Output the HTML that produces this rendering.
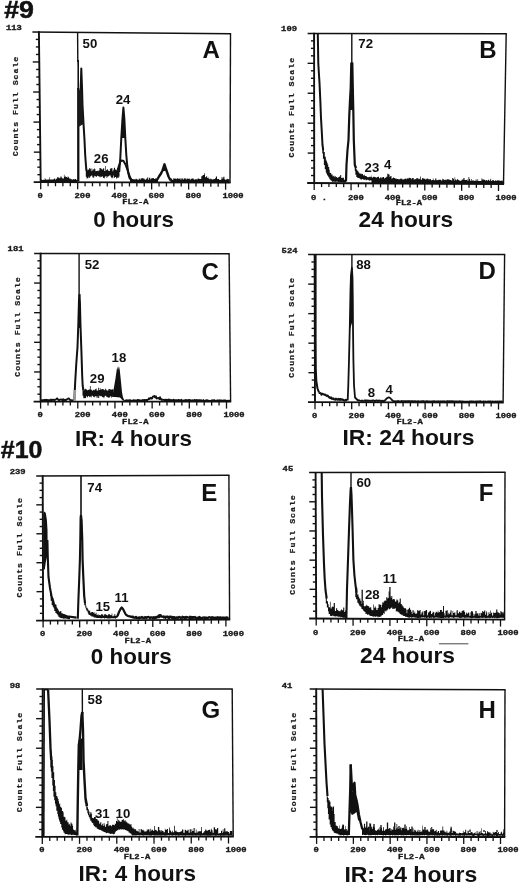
<!DOCTYPE html>
<html><head><meta charset="utf-8"><style>
html,body{margin:0;padding:0;background:#fff;}
body{width:520px;height:884px;overflow:hidden;}
svg{display:block;filter:blur(0.35px);}
.big{font-family:"Liberation Sans",sans-serif;font-weight:bold;font-size:23.5px;fill:#111;stroke:#111;stroke-width:0.5px;}
.cap{font-family:"Liberation Sans",sans-serif;font-weight:bold;font-size:22px;fill:#111;}
.let{font-family:"Liberation Sans",sans-serif;font-weight:bold;font-size:24px;fill:#111;}
.num{font-family:"Liberation Sans",sans-serif;font-weight:bold;font-size:13.2px;fill:#111;}
.tk{font-family:"Liberation Mono",monospace;font-weight:bold;font-size:8.8px;fill:#1a1a1a;stroke:#1a1a1a;stroke-width:0.42px;}
.cfs{font-family:"Liberation Mono",monospace;font-weight:bold;font-size:8.2px;letter-spacing:1px;fill:#1a1a1a;stroke:#1a1a1a;stroke-width:0.3px;}
</style></head><body>
<svg width="520" height="884" viewBox="0 0 520 884" stroke-linecap="butt">
<line x1="32.4" y1="31.9" x2="231.1" y2="33.7" stroke="#111" stroke-width="1.5"/>
<line x1="230.5" y1="33.7" x2="230" y2="182.7" stroke="#111" stroke-width="1.4"/>
<line x1="33.7" y1="182.2" x2="230.6" y2="182.7" stroke="#111" stroke-width="1.8"/>
<line x1="38.9" y1="31.2" x2="40.7" y2="182.9" stroke="#111" stroke-width="1.9"/>
<line x1="37.41" y1="174.69" x2="40.61" y2="174.69" stroke="#111" stroke-width="1.4"/>
<line x1="37.32" y1="167.17" x2="40.52" y2="167.17" stroke="#111" stroke-width="1.4"/>
<line x1="37.23" y1="159.66" x2="40.43" y2="159.66" stroke="#111" stroke-width="1.4"/>
<line x1="33.84" y1="152.14" x2="40.34" y2="152.14" stroke="#111" stroke-width="1.4"/>
<line x1="37.05" y1="144.62" x2="40.25" y2="144.62" stroke="#111" stroke-width="1.4"/>
<line x1="36.96" y1="137.11" x2="40.16" y2="137.11" stroke="#111" stroke-width="1.4"/>
<line x1="36.87" y1="129.59" x2="40.07" y2="129.59" stroke="#111" stroke-width="1.4"/>
<line x1="33.48" y1="122.08" x2="39.98" y2="122.08" stroke="#111" stroke-width="1.4"/>
<line x1="36.69" y1="114.56" x2="39.89" y2="114.56" stroke="#111" stroke-width="1.4"/>
<line x1="36.6" y1="107.05" x2="39.8" y2="107.05" stroke="#111" stroke-width="1.4"/>
<line x1="36.51" y1="99.53" x2="39.71" y2="99.53" stroke="#111" stroke-width="1.4"/>
<line x1="33.12" y1="92.02" x2="39.62" y2="92.02" stroke="#111" stroke-width="1.4"/>
<line x1="36.33" y1="84.5" x2="39.53" y2="84.5" stroke="#111" stroke-width="1.4"/>
<line x1="36.24" y1="76.99" x2="39.44" y2="76.99" stroke="#111" stroke-width="1.4"/>
<line x1="36.15" y1="69.47" x2="39.35" y2="69.47" stroke="#111" stroke-width="1.4"/>
<line x1="32.76" y1="61.96" x2="39.26" y2="61.96" stroke="#111" stroke-width="1.4"/>
<line x1="35.97" y1="54.45" x2="39.17" y2="54.45" stroke="#111" stroke-width="1.4"/>
<line x1="35.88" y1="46.93" x2="39.08" y2="46.93" stroke="#111" stroke-width="1.4"/>
<line x1="35.79" y1="39.42" x2="38.99" y2="39.42" stroke="#111" stroke-width="1.4"/>
<line x1="40.7" y1="182.2" x2="40.7" y2="189.2" stroke="#111" stroke-width="1.3"/>
<line x1="48.1" y1="182.22" x2="48.1" y2="186.22" stroke="#111" stroke-width="1.3"/>
<line x1="55.49" y1="182.24" x2="55.49" y2="186.24" stroke="#111" stroke-width="1.3"/>
<line x1="62.89" y1="182.26" x2="62.89" y2="186.26" stroke="#111" stroke-width="1.3"/>
<line x1="70.28" y1="182.28" x2="70.28" y2="186.28" stroke="#111" stroke-width="1.3"/>
<line x1="77.68" y1="182.3" x2="77.68" y2="189.3" stroke="#111" stroke-width="1.3"/>
<line x1="85.08" y1="182.32" x2="85.08" y2="186.32" stroke="#111" stroke-width="1.3"/>
<line x1="92.47" y1="182.34" x2="92.47" y2="186.34" stroke="#111" stroke-width="1.3"/>
<line x1="99.87" y1="182.36" x2="99.87" y2="186.36" stroke="#111" stroke-width="1.3"/>
<line x1="107.26" y1="182.38" x2="107.26" y2="186.38" stroke="#111" stroke-width="1.3"/>
<line x1="114.66" y1="182.4" x2="114.66" y2="189.4" stroke="#111" stroke-width="1.3"/>
<line x1="122.06" y1="182.41" x2="122.06" y2="186.41" stroke="#111" stroke-width="1.3"/>
<line x1="129.45" y1="182.43" x2="129.45" y2="186.43" stroke="#111" stroke-width="1.3"/>
<line x1="136.85" y1="182.45" x2="136.85" y2="186.45" stroke="#111" stroke-width="1.3"/>
<line x1="144.24" y1="182.47" x2="144.24" y2="186.47" stroke="#111" stroke-width="1.3"/>
<line x1="151.64" y1="182.49" x2="151.64" y2="189.49" stroke="#111" stroke-width="1.3"/>
<line x1="159.04" y1="182.51" x2="159.04" y2="186.51" stroke="#111" stroke-width="1.3"/>
<line x1="166.43" y1="182.53" x2="166.43" y2="186.53" stroke="#111" stroke-width="1.3"/>
<line x1="173.83" y1="182.55" x2="173.83" y2="186.55" stroke="#111" stroke-width="1.3"/>
<line x1="181.22" y1="182.57" x2="181.22" y2="186.57" stroke="#111" stroke-width="1.3"/>
<line x1="188.62" y1="182.59" x2="188.62" y2="189.59" stroke="#111" stroke-width="1.3"/>
<line x1="196.02" y1="182.61" x2="196.02" y2="186.61" stroke="#111" stroke-width="1.3"/>
<line x1="203.41" y1="182.63" x2="203.41" y2="186.63" stroke="#111" stroke-width="1.3"/>
<line x1="210.81" y1="182.65" x2="210.81" y2="186.65" stroke="#111" stroke-width="1.3"/>
<line x1="218.2" y1="182.67" x2="218.2" y2="186.67" stroke="#111" stroke-width="1.3"/>
<line x1="225.6" y1="182.69" x2="225.6" y2="189.69" stroke="#111" stroke-width="1.3"/>
<text x="0" y="0" class="tk" transform="translate(37.6,197.5) scale(1,0.74)">0</text>
<text x="0" y="0" class="tk" transform="translate(74.58,197.5) scale(1,0.74)">200</text>
<text x="0" y="0" class="tk" transform="translate(111.56,197.5) scale(1,0.74)">400</text>
<text x="0" y="0" class="tk" transform="translate(148.54,197.5) scale(1,0.74)">600</text>
<text x="0" y="0" class="tk" transform="translate(185.52,197.5) scale(1,0.74)">800</text>
<text x="0" y="0" class="tk" transform="translate(222.5,197.5) scale(1,0.74)">1000</text>
<text x="0" y="0" class="tk" transform="translate(122.2,204.4) scale(1,0.74)">FL2-A</text>
<text x="0" y="0" class="tk" transform="translate(5.9,29.9) scale(1,0.74)">113</text>
<text x="0" y="0" class="cfs" text-anchor="middle" transform="translate(18.4,106.05) rotate(-90) scale(1,0.78)">Counts Full Scale</text>
<line x1="307.6" y1="33.4" x2="506.8" y2="33.8" stroke="#111" stroke-width="1.5"/>
<line x1="506.2" y1="33.8" x2="503.5" y2="184" stroke="#111" stroke-width="1.4"/>
<line x1="307.2" y1="183" x2="504.1" y2="184" stroke="#111" stroke-width="1.8"/>
<line x1="314.1" y1="32.7" x2="314.2" y2="183.7" stroke="#111" stroke-width="1.9"/>
<line x1="311" y1="175.52" x2="314.19" y2="175.52" stroke="#111" stroke-width="1.4"/>
<line x1="310.99" y1="168.04" x2="314.19" y2="168.04" stroke="#111" stroke-width="1.4"/>
<line x1="310.99" y1="160.56" x2="314.19" y2="160.56" stroke="#111" stroke-width="1.4"/>
<line x1="307.68" y1="153.08" x2="314.18" y2="153.08" stroke="#111" stroke-width="1.4"/>
<line x1="310.98" y1="145.6" x2="314.18" y2="145.6" stroke="#111" stroke-width="1.4"/>
<line x1="310.97" y1="138.12" x2="314.17" y2="138.12" stroke="#111" stroke-width="1.4"/>
<line x1="310.97" y1="130.64" x2="314.17" y2="130.64" stroke="#111" stroke-width="1.4"/>
<line x1="307.66" y1="123.16" x2="314.16" y2="123.16" stroke="#111" stroke-width="1.4"/>
<line x1="310.96" y1="115.68" x2="314.16" y2="115.68" stroke="#111" stroke-width="1.4"/>
<line x1="310.95" y1="108.2" x2="314.15" y2="108.2" stroke="#111" stroke-width="1.4"/>
<line x1="310.94" y1="100.72" x2="314.14" y2="100.72" stroke="#111" stroke-width="1.4"/>
<line x1="307.64" y1="93.24" x2="314.14" y2="93.24" stroke="#111" stroke-width="1.4"/>
<line x1="310.94" y1="85.76" x2="314.13" y2="85.76" stroke="#111" stroke-width="1.4"/>
<line x1="310.93" y1="78.28" x2="314.13" y2="78.28" stroke="#111" stroke-width="1.4"/>
<line x1="310.93" y1="70.8" x2="314.12" y2="70.8" stroke="#111" stroke-width="1.4"/>
<line x1="307.62" y1="63.32" x2="314.12" y2="63.32" stroke="#111" stroke-width="1.4"/>
<line x1="310.92" y1="55.84" x2="314.12" y2="55.84" stroke="#111" stroke-width="1.4"/>
<line x1="310.91" y1="48.36" x2="314.11" y2="48.36" stroke="#111" stroke-width="1.4"/>
<line x1="310.91" y1="40.88" x2="314.11" y2="40.88" stroke="#111" stroke-width="1.4"/>
<line x1="314.2" y1="183" x2="314.2" y2="190" stroke="#111" stroke-width="1.3"/>
<line x1="321.57" y1="183.04" x2="321.57" y2="187.04" stroke="#111" stroke-width="1.3"/>
<line x1="328.94" y1="183.08" x2="328.94" y2="187.08" stroke="#111" stroke-width="1.3"/>
<line x1="336.32" y1="183.12" x2="336.32" y2="187.12" stroke="#111" stroke-width="1.3"/>
<line x1="343.69" y1="183.16" x2="343.69" y2="187.16" stroke="#111" stroke-width="1.3"/>
<line x1="351.06" y1="183.19" x2="351.06" y2="190.19" stroke="#111" stroke-width="1.3"/>
<line x1="358.43" y1="183.23" x2="358.43" y2="187.23" stroke="#111" stroke-width="1.3"/>
<line x1="365.8" y1="183.27" x2="365.8" y2="187.27" stroke="#111" stroke-width="1.3"/>
<line x1="373.18" y1="183.31" x2="373.18" y2="187.31" stroke="#111" stroke-width="1.3"/>
<line x1="380.55" y1="183.35" x2="380.55" y2="187.35" stroke="#111" stroke-width="1.3"/>
<line x1="387.92" y1="183.39" x2="387.92" y2="190.39" stroke="#111" stroke-width="1.3"/>
<line x1="395.29" y1="183.43" x2="395.29" y2="187.43" stroke="#111" stroke-width="1.3"/>
<line x1="402.66" y1="183.47" x2="402.66" y2="187.47" stroke="#111" stroke-width="1.3"/>
<line x1="410.04" y1="183.51" x2="410.04" y2="187.51" stroke="#111" stroke-width="1.3"/>
<line x1="417.41" y1="183.55" x2="417.41" y2="187.55" stroke="#111" stroke-width="1.3"/>
<line x1="424.78" y1="183.58" x2="424.78" y2="190.58" stroke="#111" stroke-width="1.3"/>
<line x1="432.15" y1="183.62" x2="432.15" y2="187.62" stroke="#111" stroke-width="1.3"/>
<line x1="439.52" y1="183.66" x2="439.52" y2="187.66" stroke="#111" stroke-width="1.3"/>
<line x1="446.9" y1="183.7" x2="446.9" y2="187.7" stroke="#111" stroke-width="1.3"/>
<line x1="454.27" y1="183.74" x2="454.27" y2="187.74" stroke="#111" stroke-width="1.3"/>
<line x1="461.64" y1="183.78" x2="461.64" y2="190.78" stroke="#111" stroke-width="1.3"/>
<line x1="469.01" y1="183.82" x2="469.01" y2="187.82" stroke="#111" stroke-width="1.3"/>
<line x1="476.38" y1="183.86" x2="476.38" y2="187.86" stroke="#111" stroke-width="1.3"/>
<line x1="483.76" y1="183.9" x2="483.76" y2="187.9" stroke="#111" stroke-width="1.3"/>
<line x1="491.13" y1="183.93" x2="491.13" y2="187.93" stroke="#111" stroke-width="1.3"/>
<line x1="498.5" y1="183.97" x2="498.5" y2="190.97" stroke="#111" stroke-width="1.3"/>
<text x="0" y="0" class="tk" transform="translate(311.1,199.9) scale(1,0.74)">0 .</text>
<text x="0" y="0" class="tk" transform="translate(347.96,199.9) scale(1,0.74)">200</text>
<text x="0" y="0" class="tk" transform="translate(384.82,199.9) scale(1,0.74)">400</text>
<text x="0" y="0" class="tk" transform="translate(421.68,199.9) scale(1,0.74)">600</text>
<text x="0" y="0" class="tk" transform="translate(458.54,199.9) scale(1,0.74)">800</text>
<text x="0" y="0" class="tk" transform="translate(495.4,199.9) scale(1,0.74)">1000</text>
<text x="0" y="0" class="tk" transform="translate(395.7,205.2) scale(1,0.74)">FL2-A</text>
<text x="0" y="0" class="tk" transform="translate(281.1,31.4) scale(1,0.74)">109</text>
<text x="0" y="0" class="cfs" text-anchor="middle" transform="translate(293.6,107.2) rotate(-90) scale(1,0.78)">Counts Full Scale</text>
<line x1="34.1" y1="253.4" x2="229.7" y2="253.8" stroke="#111" stroke-width="1.5"/>
<line x1="229.1" y1="253.8" x2="230.6" y2="401.6" stroke="#111" stroke-width="1.4"/>
<line x1="33.6" y1="401.6" x2="231.2" y2="401.6" stroke="#111" stroke-width="1.8"/>
<line x1="40.6" y1="252.7" x2="40.6" y2="402.3" stroke="#111" stroke-width="1.9"/>
<line x1="37.4" y1="394.19" x2="40.6" y2="394.19" stroke="#111" stroke-width="1.4"/>
<line x1="37.4" y1="386.78" x2="40.6" y2="386.78" stroke="#111" stroke-width="1.4"/>
<line x1="37.4" y1="379.37" x2="40.6" y2="379.37" stroke="#111" stroke-width="1.4"/>
<line x1="34.1" y1="371.96" x2="40.6" y2="371.96" stroke="#111" stroke-width="1.4"/>
<line x1="37.4" y1="364.55" x2="40.6" y2="364.55" stroke="#111" stroke-width="1.4"/>
<line x1="37.4" y1="357.14" x2="40.6" y2="357.14" stroke="#111" stroke-width="1.4"/>
<line x1="37.4" y1="349.73" x2="40.6" y2="349.73" stroke="#111" stroke-width="1.4"/>
<line x1="34.1" y1="342.32" x2="40.6" y2="342.32" stroke="#111" stroke-width="1.4"/>
<line x1="37.4" y1="334.91" x2="40.6" y2="334.91" stroke="#111" stroke-width="1.4"/>
<line x1="37.4" y1="327.5" x2="40.6" y2="327.5" stroke="#111" stroke-width="1.4"/>
<line x1="37.4" y1="320.09" x2="40.6" y2="320.09" stroke="#111" stroke-width="1.4"/>
<line x1="34.1" y1="312.68" x2="40.6" y2="312.68" stroke="#111" stroke-width="1.4"/>
<line x1="37.4" y1="305.27" x2="40.6" y2="305.27" stroke="#111" stroke-width="1.4"/>
<line x1="37.4" y1="297.86" x2="40.6" y2="297.86" stroke="#111" stroke-width="1.4"/>
<line x1="37.4" y1="290.45" x2="40.6" y2="290.45" stroke="#111" stroke-width="1.4"/>
<line x1="34.1" y1="283.04" x2="40.6" y2="283.04" stroke="#111" stroke-width="1.4"/>
<line x1="37.4" y1="275.63" x2="40.6" y2="275.63" stroke="#111" stroke-width="1.4"/>
<line x1="37.4" y1="268.22" x2="40.6" y2="268.22" stroke="#111" stroke-width="1.4"/>
<line x1="37.4" y1="260.81" x2="40.6" y2="260.81" stroke="#111" stroke-width="1.4"/>
<line x1="40.6" y1="401.6" x2="40.6" y2="408.6" stroke="#111" stroke-width="1.3"/>
<line x1="48.04" y1="401.6" x2="48.04" y2="405.6" stroke="#111" stroke-width="1.3"/>
<line x1="55.47" y1="401.6" x2="55.47" y2="405.6" stroke="#111" stroke-width="1.3"/>
<line x1="62.91" y1="401.6" x2="62.91" y2="405.6" stroke="#111" stroke-width="1.3"/>
<line x1="70.34" y1="401.6" x2="70.34" y2="405.6" stroke="#111" stroke-width="1.3"/>
<line x1="77.78" y1="401.6" x2="77.78" y2="408.6" stroke="#111" stroke-width="1.3"/>
<line x1="85.22" y1="401.6" x2="85.22" y2="405.6" stroke="#111" stroke-width="1.3"/>
<line x1="92.65" y1="401.6" x2="92.65" y2="405.6" stroke="#111" stroke-width="1.3"/>
<line x1="100.09" y1="401.6" x2="100.09" y2="405.6" stroke="#111" stroke-width="1.3"/>
<line x1="107.52" y1="401.6" x2="107.52" y2="405.6" stroke="#111" stroke-width="1.3"/>
<line x1="114.96" y1="401.6" x2="114.96" y2="408.6" stroke="#111" stroke-width="1.3"/>
<line x1="122.4" y1="401.6" x2="122.4" y2="405.6" stroke="#111" stroke-width="1.3"/>
<line x1="129.83" y1="401.6" x2="129.83" y2="405.6" stroke="#111" stroke-width="1.3"/>
<line x1="137.27" y1="401.6" x2="137.27" y2="405.6" stroke="#111" stroke-width="1.3"/>
<line x1="144.7" y1="401.6" x2="144.7" y2="405.6" stroke="#111" stroke-width="1.3"/>
<line x1="152.14" y1="401.6" x2="152.14" y2="408.6" stroke="#111" stroke-width="1.3"/>
<line x1="159.58" y1="401.6" x2="159.58" y2="405.6" stroke="#111" stroke-width="1.3"/>
<line x1="167.01" y1="401.6" x2="167.01" y2="405.6" stroke="#111" stroke-width="1.3"/>
<line x1="174.45" y1="401.6" x2="174.45" y2="405.6" stroke="#111" stroke-width="1.3"/>
<line x1="181.88" y1="401.6" x2="181.88" y2="405.6" stroke="#111" stroke-width="1.3"/>
<line x1="189.32" y1="401.6" x2="189.32" y2="408.6" stroke="#111" stroke-width="1.3"/>
<line x1="196.76" y1="401.6" x2="196.76" y2="405.6" stroke="#111" stroke-width="1.3"/>
<line x1="204.19" y1="401.6" x2="204.19" y2="405.6" stroke="#111" stroke-width="1.3"/>
<line x1="211.63" y1="401.6" x2="211.63" y2="405.6" stroke="#111" stroke-width="1.3"/>
<line x1="219.06" y1="401.6" x2="219.06" y2="405.6" stroke="#111" stroke-width="1.3"/>
<line x1="226.5" y1="401.6" x2="226.5" y2="408.6" stroke="#111" stroke-width="1.3"/>
<text x="0" y="0" class="tk" transform="translate(37.5,416.9) scale(1,0.74)">0</text>
<text x="0" y="0" class="tk" transform="translate(74.68,416.9) scale(1,0.74)">200</text>
<text x="0" y="0" class="tk" transform="translate(111.86,416.9) scale(1,0.74)">400</text>
<text x="0" y="0" class="tk" transform="translate(149.04,416.9) scale(1,0.74)">600</text>
<text x="0" y="0" class="tk" transform="translate(186.22,416.9) scale(1,0.74)">800</text>
<text x="0" y="0" class="tk" transform="translate(223.4,416.9) scale(1,0.74)">1000</text>
<text x="0" y="0" class="tk" transform="translate(122.1,423.8) scale(1,0.74)">FL2-A</text>
<text x="0" y="0" class="tk" transform="translate(7.6,251.4) scale(1,0.74)">181</text>
<text x="0" y="0" class="cfs" text-anchor="middle" transform="translate(20.1,326.5) rotate(-90) scale(1,0.78)">Counts Full Scale</text>
<line x1="308.1" y1="254.6" x2="505.2" y2="254.6" stroke="#111" stroke-width="1.5"/>
<line x1="504.6" y1="254.6" x2="503.1" y2="402.6" stroke="#111" stroke-width="1.4"/>
<line x1="308" y1="402.2" x2="503.7" y2="402.6" stroke="#111" stroke-width="1.8"/>
<line x1="314.6" y1="253.9" x2="315" y2="402.9" stroke="#111" stroke-width="1.9"/>
<line x1="311.78" y1="394.82" x2="314.98" y2="394.82" stroke="#111" stroke-width="1.4"/>
<line x1="311.76" y1="387.44" x2="314.96" y2="387.44" stroke="#111" stroke-width="1.4"/>
<line x1="311.74" y1="380.06" x2="314.94" y2="380.06" stroke="#111" stroke-width="1.4"/>
<line x1="308.42" y1="372.68" x2="314.92" y2="372.68" stroke="#111" stroke-width="1.4"/>
<line x1="311.7" y1="365.3" x2="314.9" y2="365.3" stroke="#111" stroke-width="1.4"/>
<line x1="311.68" y1="357.92" x2="314.88" y2="357.92" stroke="#111" stroke-width="1.4"/>
<line x1="311.66" y1="350.54" x2="314.86" y2="350.54" stroke="#111" stroke-width="1.4"/>
<line x1="308.34" y1="343.16" x2="314.84" y2="343.16" stroke="#111" stroke-width="1.4"/>
<line x1="311.62" y1="335.78" x2="314.82" y2="335.78" stroke="#111" stroke-width="1.4"/>
<line x1="311.6" y1="328.4" x2="314.8" y2="328.4" stroke="#111" stroke-width="1.4"/>
<line x1="311.58" y1="321.02" x2="314.78" y2="321.02" stroke="#111" stroke-width="1.4"/>
<line x1="308.26" y1="313.64" x2="314.76" y2="313.64" stroke="#111" stroke-width="1.4"/>
<line x1="311.54" y1="306.26" x2="314.74" y2="306.26" stroke="#111" stroke-width="1.4"/>
<line x1="311.52" y1="298.88" x2="314.72" y2="298.88" stroke="#111" stroke-width="1.4"/>
<line x1="311.5" y1="291.5" x2="314.7" y2="291.5" stroke="#111" stroke-width="1.4"/>
<line x1="308.18" y1="284.12" x2="314.68" y2="284.12" stroke="#111" stroke-width="1.4"/>
<line x1="311.46" y1="276.74" x2="314.66" y2="276.74" stroke="#111" stroke-width="1.4"/>
<line x1="311.44" y1="269.36" x2="314.64" y2="269.36" stroke="#111" stroke-width="1.4"/>
<line x1="311.42" y1="261.98" x2="314.62" y2="261.98" stroke="#111" stroke-width="1.4"/>
<line x1="315" y1="402.2" x2="315" y2="409.2" stroke="#111" stroke-width="1.3"/>
<line x1="322.34" y1="402.22" x2="322.34" y2="406.22" stroke="#111" stroke-width="1.3"/>
<line x1="329.68" y1="402.23" x2="329.68" y2="406.23" stroke="#111" stroke-width="1.3"/>
<line x1="337.02" y1="402.25" x2="337.02" y2="406.25" stroke="#111" stroke-width="1.3"/>
<line x1="344.36" y1="402.26" x2="344.36" y2="406.26" stroke="#111" stroke-width="1.3"/>
<line x1="351.7" y1="402.28" x2="351.7" y2="409.28" stroke="#111" stroke-width="1.3"/>
<line x1="359.04" y1="402.29" x2="359.04" y2="406.29" stroke="#111" stroke-width="1.3"/>
<line x1="366.38" y1="402.31" x2="366.38" y2="406.31" stroke="#111" stroke-width="1.3"/>
<line x1="373.72" y1="402.32" x2="373.72" y2="406.32" stroke="#111" stroke-width="1.3"/>
<line x1="381.06" y1="402.34" x2="381.06" y2="406.34" stroke="#111" stroke-width="1.3"/>
<line x1="388.4" y1="402.36" x2="388.4" y2="409.36" stroke="#111" stroke-width="1.3"/>
<line x1="395.74" y1="402.37" x2="395.74" y2="406.37" stroke="#111" stroke-width="1.3"/>
<line x1="403.08" y1="402.39" x2="403.08" y2="406.39" stroke="#111" stroke-width="1.3"/>
<line x1="410.42" y1="402.4" x2="410.42" y2="406.4" stroke="#111" stroke-width="1.3"/>
<line x1="417.76" y1="402.42" x2="417.76" y2="406.42" stroke="#111" stroke-width="1.3"/>
<line x1="425.1" y1="402.43" x2="425.1" y2="409.43" stroke="#111" stroke-width="1.3"/>
<line x1="432.44" y1="402.45" x2="432.44" y2="406.45" stroke="#111" stroke-width="1.3"/>
<line x1="439.78" y1="402.47" x2="439.78" y2="406.47" stroke="#111" stroke-width="1.3"/>
<line x1="447.12" y1="402.48" x2="447.12" y2="406.48" stroke="#111" stroke-width="1.3"/>
<line x1="454.46" y1="402.5" x2="454.46" y2="406.5" stroke="#111" stroke-width="1.3"/>
<line x1="461.8" y1="402.51" x2="461.8" y2="409.51" stroke="#111" stroke-width="1.3"/>
<line x1="469.14" y1="402.53" x2="469.14" y2="406.53" stroke="#111" stroke-width="1.3"/>
<line x1="476.48" y1="402.54" x2="476.48" y2="406.54" stroke="#111" stroke-width="1.3"/>
<line x1="483.82" y1="402.56" x2="483.82" y2="406.56" stroke="#111" stroke-width="1.3"/>
<line x1="491.16" y1="402.57" x2="491.16" y2="406.57" stroke="#111" stroke-width="1.3"/>
<line x1="498.5" y1="402.59" x2="498.5" y2="409.59" stroke="#111" stroke-width="1.3"/>
<text x="0" y="0" class="tk" transform="translate(311.9,417.5) scale(1,0.74)">0</text>
<text x="0" y="0" class="tk" transform="translate(348.6,417.5) scale(1,0.74)">200</text>
<text x="0" y="0" class="tk" transform="translate(385.3,417.5) scale(1,0.74)">400</text>
<text x="0" y="0" class="tk" transform="translate(422,417.5) scale(1,0.74)">600</text>
<text x="0" y="0" class="tk" transform="translate(458.7,417.5) scale(1,0.74)">800</text>
<text x="0" y="0" class="tk" transform="translate(495.4,417.5) scale(1,0.74)">1000</text>
<text x="0" y="0" class="tk" transform="translate(396.5,424.4) scale(1,0.74)">FL2-A</text>
<text x="0" y="0" class="tk" transform="translate(281.6,252.6) scale(1,0.74)">524</text>
<text x="0" y="0" class="cfs" text-anchor="middle" transform="translate(294.1,327.4) rotate(-90) scale(1,0.78)">Counts Full Scale</text>
<line x1="36.2" y1="475.9" x2="229.5" y2="475.2" stroke="#111" stroke-width="1.5"/>
<line x1="228.9" y1="475.2" x2="229.6" y2="619.6" stroke="#111" stroke-width="1.4"/>
<line x1="36.1" y1="620.6" x2="230.2" y2="619.6" stroke="#111" stroke-width="1.8"/>
<line x1="42.7" y1="475.2" x2="43.1" y2="621.3" stroke="#111" stroke-width="1.9"/>
<line x1="39.88" y1="613.37" x2="43.08" y2="613.37" stroke="#111" stroke-width="1.4"/>
<line x1="39.86" y1="606.13" x2="43.06" y2="606.13" stroke="#111" stroke-width="1.4"/>
<line x1="39.84" y1="598.89" x2="43.04" y2="598.89" stroke="#111" stroke-width="1.4"/>
<line x1="36.52" y1="591.66" x2="43.02" y2="591.66" stroke="#111" stroke-width="1.4"/>
<line x1="39.8" y1="584.42" x2="43" y2="584.42" stroke="#111" stroke-width="1.4"/>
<line x1="39.78" y1="577.19" x2="42.98" y2="577.19" stroke="#111" stroke-width="1.4"/>
<line x1="39.76" y1="569.96" x2="42.96" y2="569.96" stroke="#111" stroke-width="1.4"/>
<line x1="36.44" y1="562.72" x2="42.94" y2="562.72" stroke="#111" stroke-width="1.4"/>
<line x1="39.72" y1="555.49" x2="42.92" y2="555.49" stroke="#111" stroke-width="1.4"/>
<line x1="39.7" y1="548.25" x2="42.9" y2="548.25" stroke="#111" stroke-width="1.4"/>
<line x1="39.68" y1="541.01" x2="42.88" y2="541.01" stroke="#111" stroke-width="1.4"/>
<line x1="36.36" y1="533.78" x2="42.86" y2="533.78" stroke="#111" stroke-width="1.4"/>
<line x1="39.64" y1="526.54" x2="42.84" y2="526.54" stroke="#111" stroke-width="1.4"/>
<line x1="39.62" y1="519.31" x2="42.82" y2="519.31" stroke="#111" stroke-width="1.4"/>
<line x1="39.6" y1="512.08" x2="42.8" y2="512.08" stroke="#111" stroke-width="1.4"/>
<line x1="36.28" y1="504.84" x2="42.78" y2="504.84" stroke="#111" stroke-width="1.4"/>
<line x1="39.56" y1="497.61" x2="42.76" y2="497.61" stroke="#111" stroke-width="1.4"/>
<line x1="39.54" y1="490.37" x2="42.74" y2="490.37" stroke="#111" stroke-width="1.4"/>
<line x1="39.52" y1="483.13" x2="42.72" y2="483.13" stroke="#111" stroke-width="1.4"/>
<line x1="43.1" y1="620.6" x2="43.1" y2="627.6" stroke="#111" stroke-width="1.3"/>
<line x1="50.41" y1="620.56" x2="50.41" y2="624.56" stroke="#111" stroke-width="1.3"/>
<line x1="57.72" y1="620.52" x2="57.72" y2="624.52" stroke="#111" stroke-width="1.3"/>
<line x1="65.04" y1="620.48" x2="65.04" y2="624.48" stroke="#111" stroke-width="1.3"/>
<line x1="72.35" y1="620.44" x2="72.35" y2="624.44" stroke="#111" stroke-width="1.3"/>
<line x1="79.66" y1="620.4" x2="79.66" y2="627.4" stroke="#111" stroke-width="1.3"/>
<line x1="86.97" y1="620.36" x2="86.97" y2="624.36" stroke="#111" stroke-width="1.3"/>
<line x1="94.28" y1="620.33" x2="94.28" y2="624.33" stroke="#111" stroke-width="1.3"/>
<line x1="101.6" y1="620.29" x2="101.6" y2="624.29" stroke="#111" stroke-width="1.3"/>
<line x1="108.91" y1="620.25" x2="108.91" y2="624.25" stroke="#111" stroke-width="1.3"/>
<line x1="116.22" y1="620.21" x2="116.22" y2="627.21" stroke="#111" stroke-width="1.3"/>
<line x1="123.53" y1="620.17" x2="123.53" y2="624.17" stroke="#111" stroke-width="1.3"/>
<line x1="130.84" y1="620.13" x2="130.84" y2="624.13" stroke="#111" stroke-width="1.3"/>
<line x1="138.16" y1="620.09" x2="138.16" y2="624.09" stroke="#111" stroke-width="1.3"/>
<line x1="145.47" y1="620.05" x2="145.47" y2="624.05" stroke="#111" stroke-width="1.3"/>
<line x1="152.78" y1="620.01" x2="152.78" y2="627.01" stroke="#111" stroke-width="1.3"/>
<line x1="160.09" y1="619.97" x2="160.09" y2="623.97" stroke="#111" stroke-width="1.3"/>
<line x1="167.4" y1="619.93" x2="167.4" y2="623.93" stroke="#111" stroke-width="1.3"/>
<line x1="174.72" y1="619.89" x2="174.72" y2="623.89" stroke="#111" stroke-width="1.3"/>
<line x1="182.03" y1="619.86" x2="182.03" y2="623.86" stroke="#111" stroke-width="1.3"/>
<line x1="189.34" y1="619.82" x2="189.34" y2="626.82" stroke="#111" stroke-width="1.3"/>
<line x1="196.65" y1="619.78" x2="196.65" y2="623.78" stroke="#111" stroke-width="1.3"/>
<line x1="203.96" y1="619.74" x2="203.96" y2="623.74" stroke="#111" stroke-width="1.3"/>
<line x1="211.28" y1="619.7" x2="211.28" y2="623.7" stroke="#111" stroke-width="1.3"/>
<line x1="218.59" y1="619.66" x2="218.59" y2="623.66" stroke="#111" stroke-width="1.3"/>
<line x1="225.9" y1="619.62" x2="225.9" y2="626.62" stroke="#111" stroke-width="1.3"/>
<text x="0" y="0" class="tk" transform="translate(40,635.9) scale(1,0.74)">0</text>
<text x="0" y="0" class="tk" transform="translate(76.56,635.9) scale(1,0.74)">200</text>
<text x="0" y="0" class="tk" transform="translate(113.12,635.9) scale(1,0.74)">400</text>
<text x="0" y="0" class="tk" transform="translate(149.68,635.9) scale(1,0.74)">600</text>
<text x="0" y="0" class="tk" transform="translate(186.24,635.9) scale(1,0.74)">800</text>
<text x="0" y="0" class="tk" transform="translate(222.8,635.9) scale(1,0.74)">1000</text>
<text x="0" y="0" class="tk" transform="translate(124.6,642.8) scale(1,0.74)">FL2-A</text>
<text x="0" y="0" class="tk" transform="translate(9.7,473.9) scale(1,0.74)">239</text>
<text x="0" y="0" class="cfs" text-anchor="middle" transform="translate(22.2,547.25) rotate(-90) scale(1,0.78)">Counts Full Scale</text>
<line x1="309.1" y1="472.6" x2="505.6" y2="472.2" stroke="#111" stroke-width="1.5"/>
<line x1="505" y1="472.2" x2="504.6" y2="619.6" stroke="#111" stroke-width="1.4"/>
<line x1="309.2" y1="618.5" x2="505.2" y2="619.6" stroke="#111" stroke-width="1.8"/>
<line x1="315.6" y1="471.9" x2="316.2" y2="619.2" stroke="#111" stroke-width="1.9"/>
<line x1="312.97" y1="611.21" x2="316.17" y2="611.21" stroke="#111" stroke-width="1.4"/>
<line x1="312.94" y1="603.91" x2="316.14" y2="603.91" stroke="#111" stroke-width="1.4"/>
<line x1="312.91" y1="596.62" x2="316.11" y2="596.62" stroke="#111" stroke-width="1.4"/>
<line x1="309.58" y1="589.32" x2="316.08" y2="589.32" stroke="#111" stroke-width="1.4"/>
<line x1="312.85" y1="582.02" x2="316.05" y2="582.02" stroke="#111" stroke-width="1.4"/>
<line x1="312.82" y1="574.73" x2="316.02" y2="574.73" stroke="#111" stroke-width="1.4"/>
<line x1="312.79" y1="567.44" x2="315.99" y2="567.44" stroke="#111" stroke-width="1.4"/>
<line x1="309.46" y1="560.14" x2="315.96" y2="560.14" stroke="#111" stroke-width="1.4"/>
<line x1="312.73" y1="552.85" x2="315.93" y2="552.85" stroke="#111" stroke-width="1.4"/>
<line x1="312.7" y1="545.55" x2="315.9" y2="545.55" stroke="#111" stroke-width="1.4"/>
<line x1="312.67" y1="538.25" x2="315.87" y2="538.25" stroke="#111" stroke-width="1.4"/>
<line x1="309.34" y1="530.96" x2="315.84" y2="530.96" stroke="#111" stroke-width="1.4"/>
<line x1="312.61" y1="523.66" x2="315.81" y2="523.66" stroke="#111" stroke-width="1.4"/>
<line x1="312.58" y1="516.37" x2="315.78" y2="516.37" stroke="#111" stroke-width="1.4"/>
<line x1="312.55" y1="509.08" x2="315.75" y2="509.08" stroke="#111" stroke-width="1.4"/>
<line x1="309.22" y1="501.78" x2="315.72" y2="501.78" stroke="#111" stroke-width="1.4"/>
<line x1="312.49" y1="494.49" x2="315.69" y2="494.49" stroke="#111" stroke-width="1.4"/>
<line x1="312.46" y1="487.19" x2="315.66" y2="487.19" stroke="#111" stroke-width="1.4"/>
<line x1="312.43" y1="479.9" x2="315.63" y2="479.9" stroke="#111" stroke-width="1.4"/>
<line x1="316.2" y1="618.5" x2="316.2" y2="625.5" stroke="#111" stroke-width="1.3"/>
<line x1="323.57" y1="618.54" x2="323.57" y2="622.54" stroke="#111" stroke-width="1.3"/>
<line x1="330.94" y1="618.59" x2="330.94" y2="622.59" stroke="#111" stroke-width="1.3"/>
<line x1="338.32" y1="618.63" x2="338.32" y2="622.63" stroke="#111" stroke-width="1.3"/>
<line x1="345.69" y1="618.67" x2="345.69" y2="622.67" stroke="#111" stroke-width="1.3"/>
<line x1="353.06" y1="618.72" x2="353.06" y2="625.72" stroke="#111" stroke-width="1.3"/>
<line x1="360.43" y1="618.76" x2="360.43" y2="622.76" stroke="#111" stroke-width="1.3"/>
<line x1="367.8" y1="618.8" x2="367.8" y2="622.8" stroke="#111" stroke-width="1.3"/>
<line x1="375.18" y1="618.84" x2="375.18" y2="622.84" stroke="#111" stroke-width="1.3"/>
<line x1="382.55" y1="618.89" x2="382.55" y2="622.89" stroke="#111" stroke-width="1.3"/>
<line x1="389.92" y1="618.93" x2="389.92" y2="625.93" stroke="#111" stroke-width="1.3"/>
<line x1="397.29" y1="618.97" x2="397.29" y2="622.97" stroke="#111" stroke-width="1.3"/>
<line x1="404.66" y1="619.02" x2="404.66" y2="623.02" stroke="#111" stroke-width="1.3"/>
<line x1="412.04" y1="619.06" x2="412.04" y2="623.06" stroke="#111" stroke-width="1.3"/>
<line x1="419.41" y1="619.1" x2="419.41" y2="623.1" stroke="#111" stroke-width="1.3"/>
<line x1="426.78" y1="619.15" x2="426.78" y2="626.15" stroke="#111" stroke-width="1.3"/>
<line x1="434.15" y1="619.19" x2="434.15" y2="623.19" stroke="#111" stroke-width="1.3"/>
<line x1="441.52" y1="619.23" x2="441.52" y2="623.23" stroke="#111" stroke-width="1.3"/>
<line x1="448.9" y1="619.27" x2="448.9" y2="623.27" stroke="#111" stroke-width="1.3"/>
<line x1="456.27" y1="619.32" x2="456.27" y2="623.32" stroke="#111" stroke-width="1.3"/>
<line x1="463.64" y1="619.36" x2="463.64" y2="626.36" stroke="#111" stroke-width="1.3"/>
<line x1="471.01" y1="619.4" x2="471.01" y2="623.4" stroke="#111" stroke-width="1.3"/>
<line x1="478.38" y1="619.45" x2="478.38" y2="623.45" stroke="#111" stroke-width="1.3"/>
<line x1="485.76" y1="619.49" x2="485.76" y2="623.49" stroke="#111" stroke-width="1.3"/>
<line x1="493.13" y1="619.53" x2="493.13" y2="623.53" stroke="#111" stroke-width="1.3"/>
<line x1="500.5" y1="619.58" x2="500.5" y2="626.58" stroke="#111" stroke-width="1.3"/>
<text x="0" y="0" class="tk" transform="translate(313.1,635.3) scale(1,0.74)">0</text>
<text x="0" y="0" class="tk" transform="translate(349.96,635.3) scale(1,0.74)">200</text>
<text x="0" y="0" class="tk" transform="translate(386.82,635.3) scale(1,0.74)">400</text>
<text x="0" y="0" class="tk" transform="translate(423.68,635.3) scale(1,0.74)">600</text>
<text x="0" y="0" class="tk" transform="translate(460.54,635.3) scale(1,0.74)">800</text>
<text x="0" y="0" class="tk" transform="translate(497.4,635.3) scale(1,0.74)">1000</text>
<text x="0" y="0" class="tk" transform="translate(397.7,640.7) scale(1,0.74)">FL2-A</text>
<text x="0" y="0" class="tk" transform="translate(282.6,470.6) scale(1,0.74)">45</text>
<text x="0" y="0" class="cfs" text-anchor="middle" transform="translate(295.1,544.55) rotate(-90) scale(1,0.78)">Counts Full Scale</text>
<line x1="36.2" y1="689.1" x2="232.8" y2="689.1" stroke="#111" stroke-width="1.5"/>
<line x1="232.2" y1="689.1" x2="233.2" y2="836.5" stroke="#111" stroke-width="1.4"/>
<line x1="35.3" y1="836.9" x2="233.8" y2="836.5" stroke="#111" stroke-width="1.8"/>
<line x1="42.7" y1="688.4" x2="42.3" y2="837.6" stroke="#111" stroke-width="1.9"/>
<line x1="39.12" y1="829.51" x2="42.32" y2="829.51" stroke="#111" stroke-width="1.4"/>
<line x1="39.14" y1="822.12" x2="42.34" y2="822.12" stroke="#111" stroke-width="1.4"/>
<line x1="39.16" y1="814.73" x2="42.36" y2="814.73" stroke="#111" stroke-width="1.4"/>
<line x1="35.88" y1="807.34" x2="42.38" y2="807.34" stroke="#111" stroke-width="1.4"/>
<line x1="39.2" y1="799.95" x2="42.4" y2="799.95" stroke="#111" stroke-width="1.4"/>
<line x1="39.22" y1="792.56" x2="42.42" y2="792.56" stroke="#111" stroke-width="1.4"/>
<line x1="39.24" y1="785.17" x2="42.44" y2="785.17" stroke="#111" stroke-width="1.4"/>
<line x1="35.96" y1="777.78" x2="42.46" y2="777.78" stroke="#111" stroke-width="1.4"/>
<line x1="39.28" y1="770.39" x2="42.48" y2="770.39" stroke="#111" stroke-width="1.4"/>
<line x1="39.3" y1="763" x2="42.5" y2="763" stroke="#111" stroke-width="1.4"/>
<line x1="39.32" y1="755.61" x2="42.52" y2="755.61" stroke="#111" stroke-width="1.4"/>
<line x1="36.04" y1="748.22" x2="42.54" y2="748.22" stroke="#111" stroke-width="1.4"/>
<line x1="39.36" y1="740.83" x2="42.56" y2="740.83" stroke="#111" stroke-width="1.4"/>
<line x1="39.38" y1="733.44" x2="42.58" y2="733.44" stroke="#111" stroke-width="1.4"/>
<line x1="39.4" y1="726.05" x2="42.6" y2="726.05" stroke="#111" stroke-width="1.4"/>
<line x1="36.12" y1="718.66" x2="42.62" y2="718.66" stroke="#111" stroke-width="1.4"/>
<line x1="39.44" y1="711.27" x2="42.64" y2="711.27" stroke="#111" stroke-width="1.4"/>
<line x1="39.46" y1="703.88" x2="42.66" y2="703.88" stroke="#111" stroke-width="1.4"/>
<line x1="39.48" y1="696.49" x2="42.68" y2="696.49" stroke="#111" stroke-width="1.4"/>
<line x1="42.3" y1="836.9" x2="42.3" y2="843.9" stroke="#111" stroke-width="1.3"/>
<line x1="49.75" y1="836.88" x2="49.75" y2="840.88" stroke="#111" stroke-width="1.3"/>
<line x1="57.2" y1="836.87" x2="57.2" y2="840.87" stroke="#111" stroke-width="1.3"/>
<line x1="64.64" y1="836.85" x2="64.64" y2="840.85" stroke="#111" stroke-width="1.3"/>
<line x1="72.09" y1="836.84" x2="72.09" y2="840.84" stroke="#111" stroke-width="1.3"/>
<line x1="79.54" y1="836.82" x2="79.54" y2="843.82" stroke="#111" stroke-width="1.3"/>
<line x1="86.99" y1="836.81" x2="86.99" y2="840.81" stroke="#111" stroke-width="1.3"/>
<line x1="94.44" y1="836.79" x2="94.44" y2="840.79" stroke="#111" stroke-width="1.3"/>
<line x1="101.88" y1="836.78" x2="101.88" y2="840.78" stroke="#111" stroke-width="1.3"/>
<line x1="109.33" y1="836.76" x2="109.33" y2="840.76" stroke="#111" stroke-width="1.3"/>
<line x1="116.78" y1="836.74" x2="116.78" y2="843.74" stroke="#111" stroke-width="1.3"/>
<line x1="124.23" y1="836.73" x2="124.23" y2="840.73" stroke="#111" stroke-width="1.3"/>
<line x1="131.68" y1="836.71" x2="131.68" y2="840.71" stroke="#111" stroke-width="1.3"/>
<line x1="139.12" y1="836.7" x2="139.12" y2="840.7" stroke="#111" stroke-width="1.3"/>
<line x1="146.57" y1="836.68" x2="146.57" y2="840.68" stroke="#111" stroke-width="1.3"/>
<line x1="154.02" y1="836.67" x2="154.02" y2="843.67" stroke="#111" stroke-width="1.3"/>
<line x1="161.47" y1="836.65" x2="161.47" y2="840.65" stroke="#111" stroke-width="1.3"/>
<line x1="168.92" y1="836.63" x2="168.92" y2="840.63" stroke="#111" stroke-width="1.3"/>
<line x1="176.36" y1="836.62" x2="176.36" y2="840.62" stroke="#111" stroke-width="1.3"/>
<line x1="183.81" y1="836.6" x2="183.81" y2="840.6" stroke="#111" stroke-width="1.3"/>
<line x1="191.26" y1="836.59" x2="191.26" y2="843.59" stroke="#111" stroke-width="1.3"/>
<line x1="198.71" y1="836.57" x2="198.71" y2="840.57" stroke="#111" stroke-width="1.3"/>
<line x1="206.16" y1="836.56" x2="206.16" y2="840.56" stroke="#111" stroke-width="1.3"/>
<line x1="213.6" y1="836.54" x2="213.6" y2="840.54" stroke="#111" stroke-width="1.3"/>
<line x1="221.05" y1="836.53" x2="221.05" y2="840.53" stroke="#111" stroke-width="1.3"/>
<line x1="228.5" y1="836.51" x2="228.5" y2="843.51" stroke="#111" stroke-width="1.3"/>
<text x="0" y="0" class="tk" transform="translate(39.2,852.2) scale(1,0.74)">0</text>
<text x="0" y="0" class="tk" transform="translate(76.44,852.2) scale(1,0.74)">200</text>
<text x="0" y="0" class="tk" transform="translate(113.68,852.2) scale(1,0.74)">400</text>
<text x="0" y="0" class="tk" transform="translate(150.92,852.2) scale(1,0.74)">600</text>
<text x="0" y="0" class="tk" transform="translate(188.16,852.2) scale(1,0.74)">800</text>
<text x="0" y="0" class="tk" transform="translate(225.4,852.2) scale(1,0.74)">1000</text>
<text x="0" y="0" class="tk" transform="translate(123.8,859.1) scale(1,0.74)">FL2-A</text>
<text x="0" y="0" class="tk" transform="translate(9.7,688.4) scale(1,0.74)">98</text>
<text x="0" y="0" class="cfs" text-anchor="middle" transform="translate(22.2,762) rotate(-90) scale(1,0.78)">Counts Full Scale</text>
<line x1="309.7" y1="689.1" x2="505.6" y2="689.8" stroke="#111" stroke-width="1.5"/>
<line x1="505" y1="689.8" x2="504.6" y2="837" stroke="#111" stroke-width="1.4"/>
<line x1="309.6" y1="836.9" x2="505.2" y2="837" stroke="#111" stroke-width="1.8"/>
<line x1="316.2" y1="688.4" x2="316.6" y2="837.6" stroke="#111" stroke-width="1.9"/>
<line x1="313.38" y1="829.51" x2="316.58" y2="829.51" stroke="#111" stroke-width="1.4"/>
<line x1="313.36" y1="822.12" x2="316.56" y2="822.12" stroke="#111" stroke-width="1.4"/>
<line x1="313.34" y1="814.73" x2="316.54" y2="814.73" stroke="#111" stroke-width="1.4"/>
<line x1="310.02" y1="807.34" x2="316.52" y2="807.34" stroke="#111" stroke-width="1.4"/>
<line x1="313.3" y1="799.95" x2="316.5" y2="799.95" stroke="#111" stroke-width="1.4"/>
<line x1="313.28" y1="792.56" x2="316.48" y2="792.56" stroke="#111" stroke-width="1.4"/>
<line x1="313.26" y1="785.17" x2="316.46" y2="785.17" stroke="#111" stroke-width="1.4"/>
<line x1="309.94" y1="777.78" x2="316.44" y2="777.78" stroke="#111" stroke-width="1.4"/>
<line x1="313.22" y1="770.39" x2="316.42" y2="770.39" stroke="#111" stroke-width="1.4"/>
<line x1="313.2" y1="763" x2="316.4" y2="763" stroke="#111" stroke-width="1.4"/>
<line x1="313.18" y1="755.61" x2="316.38" y2="755.61" stroke="#111" stroke-width="1.4"/>
<line x1="309.86" y1="748.22" x2="316.36" y2="748.22" stroke="#111" stroke-width="1.4"/>
<line x1="313.14" y1="740.83" x2="316.34" y2="740.83" stroke="#111" stroke-width="1.4"/>
<line x1="313.12" y1="733.44" x2="316.32" y2="733.44" stroke="#111" stroke-width="1.4"/>
<line x1="313.1" y1="726.05" x2="316.3" y2="726.05" stroke="#111" stroke-width="1.4"/>
<line x1="309.78" y1="718.66" x2="316.28" y2="718.66" stroke="#111" stroke-width="1.4"/>
<line x1="313.06" y1="711.27" x2="316.26" y2="711.27" stroke="#111" stroke-width="1.4"/>
<line x1="313.04" y1="703.88" x2="316.24" y2="703.88" stroke="#111" stroke-width="1.4"/>
<line x1="313.02" y1="696.49" x2="316.22" y2="696.49" stroke="#111" stroke-width="1.4"/>
<line x1="316.6" y1="836.9" x2="316.6" y2="843.9" stroke="#111" stroke-width="1.3"/>
<line x1="323.96" y1="836.9" x2="323.96" y2="840.9" stroke="#111" stroke-width="1.3"/>
<line x1="331.31" y1="836.91" x2="331.31" y2="840.91" stroke="#111" stroke-width="1.3"/>
<line x1="338.67" y1="836.91" x2="338.67" y2="840.91" stroke="#111" stroke-width="1.3"/>
<line x1="346.02" y1="836.92" x2="346.02" y2="840.92" stroke="#111" stroke-width="1.3"/>
<line x1="353.38" y1="836.92" x2="353.38" y2="843.92" stroke="#111" stroke-width="1.3"/>
<line x1="360.74" y1="836.92" x2="360.74" y2="840.92" stroke="#111" stroke-width="1.3"/>
<line x1="368.09" y1="836.93" x2="368.09" y2="840.93" stroke="#111" stroke-width="1.3"/>
<line x1="375.45" y1="836.93" x2="375.45" y2="840.93" stroke="#111" stroke-width="1.3"/>
<line x1="382.8" y1="836.94" x2="382.8" y2="840.94" stroke="#111" stroke-width="1.3"/>
<line x1="390.16" y1="836.94" x2="390.16" y2="843.94" stroke="#111" stroke-width="1.3"/>
<line x1="397.52" y1="836.94" x2="397.52" y2="840.94" stroke="#111" stroke-width="1.3"/>
<line x1="404.87" y1="836.95" x2="404.87" y2="840.95" stroke="#111" stroke-width="1.3"/>
<line x1="412.23" y1="836.95" x2="412.23" y2="840.95" stroke="#111" stroke-width="1.3"/>
<line x1="419.58" y1="836.95" x2="419.58" y2="840.95" stroke="#111" stroke-width="1.3"/>
<line x1="426.94" y1="836.96" x2="426.94" y2="843.96" stroke="#111" stroke-width="1.3"/>
<line x1="434.3" y1="836.96" x2="434.3" y2="840.96" stroke="#111" stroke-width="1.3"/>
<line x1="441.65" y1="836.97" x2="441.65" y2="840.97" stroke="#111" stroke-width="1.3"/>
<line x1="449.01" y1="836.97" x2="449.01" y2="840.97" stroke="#111" stroke-width="1.3"/>
<line x1="456.36" y1="836.97" x2="456.36" y2="840.97" stroke="#111" stroke-width="1.3"/>
<line x1="463.72" y1="836.98" x2="463.72" y2="843.98" stroke="#111" stroke-width="1.3"/>
<line x1="471.08" y1="836.98" x2="471.08" y2="840.98" stroke="#111" stroke-width="1.3"/>
<line x1="478.43" y1="836.99" x2="478.43" y2="840.99" stroke="#111" stroke-width="1.3"/>
<line x1="485.79" y1="836.99" x2="485.79" y2="840.99" stroke="#111" stroke-width="1.3"/>
<line x1="493.14" y1="836.99" x2="493.14" y2="840.99" stroke="#111" stroke-width="1.3"/>
<line x1="500.5" y1="837" x2="500.5" y2="844" stroke="#111" stroke-width="1.3"/>
<text x="0" y="0" class="tk" transform="translate(313.5,852.2) scale(1,0.74)">0</text>
<text x="0" y="0" class="tk" transform="translate(350.28,852.2) scale(1,0.74)">200</text>
<text x="0" y="0" class="tk" transform="translate(387.06,852.2) scale(1,0.74)">400</text>
<text x="0" y="0" class="tk" transform="translate(423.84,852.2) scale(1,0.74)">600</text>
<text x="0" y="0" class="tk" transform="translate(460.62,852.2) scale(1,0.74)">800</text>
<text x="0" y="0" class="tk" transform="translate(497.4,852.2) scale(1,0.74)">1000</text>
<text x="0" y="0" class="tk" transform="translate(398.1,859.1) scale(1,0.74)">FL2-A</text>
<text x="0" y="0" class="tk" transform="translate(281.8,688.4) scale(1,0.74)">41</text>
<text x="0" y="0" class="cfs" text-anchor="middle" transform="translate(295.7,762) rotate(-90) scale(1,0.78)">Counts Full Scale</text>
<line x1="77.6" y1="32.5" x2="77.8" y2="62" stroke="#111" stroke-width="1.4"/>
<path d="M41 179.39 L41.64 179.39 L41.64 180.12 L42.79 180.12 L42.79 179.78 L43.88 179.78 L43.88 180.05 L44.6 180.05 L44.6 178.57 L45.5 178.57 L45.5 179.41 L46.36 179.41 L46.36 179.79 L47.37 179.79 L47.37 179.42 L48.48 179.42 L48.48 179.52 L49.09 179.52 L49.09 177.16 L49.65 177.16 L49.65 179.6 L50.79 179.6 L50.79 179.46 L51.64 179.46 L51.64 179.5 L52.73 179.5 L52.73 179.45 L53.27 179.45 L53.27 179.35 L54.13 179.35 L54.13 178.39 L55.19 178.39 L55.19 179.86 L55.89 179.86 L55.89 178.84 L57.12 178.84 L57.12 177.29 L58.3 177.29 L58.3 177.38 L58.87 177.38 L58.87 177.68 L59.42 177.68 L59.42 178.22 L60.35 178.22 L60.35 176.55 L61.57 176.55 L61.57 177.82 L62.38 177.82 L62.38 178.4 L63.08 178.4 L63.08 178.54 L63.92 178.54 L63.92 174.71 L64.49 174.71 L64.49 176.68 L65.19 176.68 L65.19 176.6 L66.04 176.6 L66.04 176.89 L66.94 176.89 L66.94 177.66 L67.65 177.66 L67.65 176.56 L68.35 176.56 L68.35 177.34 L69.05 177.34 L69.05 178.42 L69.92 178.42 L69.92 178.48 L70.67 178.48 L70.67 179.33 L71.22 179.33 L71.22 179.35 L72.37 179.35 L72.37 179.86 L73.31 179.86 L73.31 178.92 L74.31 178.92 L74.31 179.46 L74.98 179.46 L74.98 178.96 L76.24 178.96 L76.24 179.96 L77.4 179.96 L77.4 179.41 L77.5 179.41 L77.5 182.4 L77.4 182.4 L77.4 182.4 L76.24 182.4 L76.24 182.39 L74.98 182.39 L74.98 182.39 L74.31 182.39 L74.31 182.38 L73.31 182.38 L73.31 182.38 L72.37 182.38 L72.37 182.37 L71.22 182.37 L71.22 182.37 L70.67 182.37 L70.67 182.36 L69.92 182.36 L69.92 182.36 L69.05 182.36 L69.05 182.35 L68.35 182.35 L68.35 182.35 L67.65 182.35 L67.65 182.35 L66.94 182.35 L66.94 182.34 L66.04 182.34 L66.04 182.34 L65.19 182.34 L65.19 182.33 L64.49 182.33 L64.49 182.33 L63.92 182.33 L63.92 182.33 L63.08 182.33 L63.08 182.32 L62.38 182.32 L62.38 182.32 L61.57 182.32 L61.57 182.31 L60.35 182.31 L60.35 182.3 L59.42 182.3 L59.42 182.3 L58.87 182.3 L58.87 182.3 L58.3 182.3 L58.3 182.29 L57.12 182.29 L57.12 182.29 L55.89 182.29 L55.89 182.28 L55.19 182.28 L55.19 182.28 L54.13 182.28 L54.13 182.27 L53.27 182.27 L53.27 182.27 L52.73 182.27 L52.73 182.26 L51.64 182.26 L51.64 182.26 L50.79 182.26 L50.79 182.25 L49.65 182.25 L49.65 182.25 L49.09 182.25 L49.09 182.24 L48.48 182.24 L48.48 182.24 L47.37 182.24 L47.37 182.23 L46.36 182.23 L46.36 182.23 L45.5 182.23 L45.5 182.22 L44.6 182.22 L44.6 182.22 L43.88 182.22 L43.88 182.21 L42.79 182.21 L42.79 182.21 L41.64 182.21 L41.64 182.2 L41 182.2Z" fill="#111"/>
<line x1="78.3" y1="181.5" x2="78.25" y2="88" stroke="#111" stroke-width="2.3"/>
<line x1="78.25" y1="90" x2="78.2" y2="60" stroke="#111" stroke-width="1.6"/>
<path d="M80.5 95 L81.3 68.6 L82 87 L82.5 105 L83.5 123.4 L84.5 140 L85.2 155 L86 166 L86.5 171" fill="none" stroke="#111" stroke-width="2.0" stroke-linejoin="round"/>
<path d="M78.2 92 L80.8 88 L82.4 100 L83.4 124 L78.4 127Z" fill="#1a1a1a"/>
<path d="M85.8 167.95 L86.57 167.95 L86.57 170.75 L87.41 170.75 L87.41 169.7 L88.48 169.7 L88.48 169.39 L89.26 169.39 L89.26 167.96 L90.06 167.96 L90.06 168.67 L90.92 168.67 L90.92 171.17 L91.52 171.17 L91.52 168.59 L92.32 168.59 L92.32 170.57 L93.21 170.57 L93.21 169.31 L94.19 169.31 L94.19 168.17 L94.73 168.17 L94.73 169.21 L95.41 169.21 L95.41 171.2 L95.95 171.2 L95.95 170.89 L96.95 170.89 L96.95 170.78 L97.87 170.78 L97.87 171.26 L98.38 171.26 L98.38 170.48 L99.48 170.48 L99.48 167.96 L100.58 167.96 L100.58 168.57 L101.48 168.57 L101.48 169.33 L102.35 169.33 L102.35 169.77 L102.94 169.77 L102.94 168.25 L103.42 168.25 L103.42 168.6 L104.24 168.6 L104.24 171.09 L104.76 171.09 L104.76 170.88 L105.36 170.88 L105.36 166.12 L106 166.12 L106 170.24 L106.5 170.24 L106.5 169.85 L107.27 169.85 L107.27 169.22 L108.04 169.22 L108.04 170.77 L109.05 170.77 L109.05 171 L109.87 171 L109.87 168.67 L110.76 168.67 L110.76 168.33 L111.56 168.33 L111.56 168.17 L112.46 168.17 L112.46 171.23 L113.23 171.23 L113.23 169.8 L113.89 169.8 L113.89 167.76 L115.01 167.76 L115.01 169.6 L116.13 169.6 L116.13 170.33 L117.14 170.33 L117.14 167.97 L118.08 167.97 L118.08 170.94 L118.76 170.94 L118.76 170.56 L119.39 170.56 L119.39 170.17 L119.5 170.17 L119.5 178.19 L119.39 178.19 L119.39 176.53 L118.76 176.53 L118.76 177.65 L118.08 177.65 L118.08 177.76 L117.14 177.76 L117.14 178.6 L116.13 178.6 L116.13 176.94 L115.01 176.94 L115.01 177.64 L113.89 177.64 L113.89 175.51 L113.23 175.51 L113.23 177.61 L112.46 177.61 L112.46 178.25 L111.56 178.25 L111.56 177.23 L110.76 177.23 L110.76 175.59 L109.87 175.59 L109.87 175.45 L109.05 175.45 L109.05 176.3 L108.04 176.3 L108.04 177.19 L107.27 177.19 L107.27 175.96 L106.5 175.96 L106.5 178.04 L106 178.04 L106 176.16 L105.36 176.16 L105.36 176.75 L104.76 176.75 L104.76 178.44 L104.24 178.44 L104.24 177.77 L103.42 177.77 L103.42 178.02 L102.94 178.02 L102.94 175.99 L102.35 175.99 L102.35 176.95 L101.48 176.95 L101.48 176.59 L100.58 176.59 L100.58 177.26 L99.48 177.26 L99.48 176.35 L98.38 176.35 L98.38 176.23 L97.87 176.23 L97.87 175.72 L96.95 175.72 L96.95 176.66 L95.95 176.66 L95.95 176.37 L95.41 176.37 L95.41 176.26 L94.73 176.26 L94.73 175.77 L94.19 175.77 L94.19 177.74 L93.21 177.74 L93.21 177.19 L92.32 177.19 L92.32 175.59 L91.52 175.59 L91.52 175.78 L90.92 175.78 L90.92 176.46 L90.06 176.46 L90.06 177.89 L89.26 177.89 L89.26 176.67 L88.48 176.67 L88.48 178.31 L87.41 178.31 L87.41 178.47 L86.57 178.47 L86.57 176.68 L85.8 176.68Z" fill="#111"/>
<path d="M119.2 172 L120.3 158 L121.3 138 L122.4 120 L123.4 107.6 L124.3 118 L125.3 138 L126.3 155 L127.3 166 L128.3 173 L129.5 178 L131 180" fill="none" stroke="#111" stroke-width="2.0" stroke-linejoin="round"/>
<path d="M122.5 118 L123.4 107.6 L124.3 118 L125 138 L121.6 138Z" fill="#111"/>
<path d="M116 177 L117.5 171 L119 165.5 L120.5 161.5 L121.7 160.4 L123.5 161 L125.5 164.5 L127.5 170 L129.5 176 L131 179.5" fill="none" stroke="#111" stroke-width="2.0" stroke-linejoin="round"/>
<path d="M130 178.96 L130.88 178.96 L130.88 178.17 L131.9 178.17 L131.9 179.01 L132.91 179.01 L132.91 179.1 L133.56 179.1 L133.56 179.46 L134.11 179.46 L134.11 179.37 L134.92 179.37 L134.92 179.4 L135.65 179.4 L135.65 178.63 L136.78 178.63 L136.78 179.61 L137.81 179.61 L137.81 179.64 L138.79 179.64 L138.79 178.48 L139.73 178.48 L139.73 179.54 L140.74 179.54 L140.74 178.33 L141.39 178.33 L141.39 178.52 L142.25 178.52 L142.25 178.05 L142.9 178.05 L142.9 178.49 L144.09 178.49 L144.09 178.87 L144.68 178.87 L144.68 179.74 L145.81 179.74 L145.81 179.37 L146.4 179.37 L146.4 178.4 L147.44 178.4 L147.44 177.27 L148.22 177.27 L148.22 179.79 L149.05 179.79 L149.05 177.86 L150.2 177.86 L150.2 179.45 L150.75 179.45 L150.75 178.83 L151.33 178.83 L151.33 178.27 L152.53 178.27 L152.53 178.04 L153.44 178.04 L153.44 178.26 L154.04 178.26 L154.04 179.07 L155.29 179.07 L155.29 178.21 L156.52 178.21 L156.52 179.01 L157.14 179.01 L157.14 178.44 L157.98 178.44 L157.98 179.56 L158 179.56 L158 182.5 L157.98 182.5 L157.98 182.5 L157.14 182.5 L157.14 182.5 L156.52 182.5 L156.52 182.5 L155.29 182.5 L155.29 182.5 L154.04 182.5 L154.04 182.5 L153.44 182.5 L153.44 182.5 L152.53 182.5 L152.53 182.5 L151.33 182.5 L151.33 182.5 L150.75 182.5 L150.75 182.5 L150.2 182.5 L150.2 182.5 L149.05 182.5 L149.05 182.5 L148.22 182.5 L148.22 182.5 L147.44 182.5 L147.44 182.5 L146.4 182.5 L146.4 182.5 L145.81 182.5 L145.81 182.5 L144.68 182.5 L144.68 182.5 L144.09 182.5 L144.09 182.5 L142.9 182.5 L142.9 182.5 L142.25 182.5 L142.25 182.5 L141.39 182.5 L141.39 182.5 L140.74 182.5 L140.74 182.5 L139.73 182.5 L139.73 182.5 L138.79 182.5 L138.79 182.5 L137.81 182.5 L137.81 182.5 L136.78 182.5 L136.78 182.5 L135.65 182.5 L135.65 182.5 L134.92 182.5 L134.92 182.5 L134.11 182.5 L134.11 182.5 L133.56 182.5 L133.56 182.5 L132.91 182.5 L132.91 182.5 L131.9 182.5 L131.9 182.5 L130.88 182.5 L130.88 182.5 L130 182.5Z" fill="#111"/>
<path d="M157 180 L159 176.5 L161 173.5 L162.5 170.5 L163.5 167.5 L164.5 164.3 L165.5 167.5 L166.5 170.5 L167.5 173.5 L168.5 176.5 L170 179.5 L171 180.5" fill="none" stroke="#111" stroke-width="2.4" stroke-linejoin="round"/>
<path d="M162.3 171 L163.5 167 L164.5 164.3 L165.5 167 L166.7 171Z" fill="#111"/>
<path d="M170.5 178.2 L171.41 178.2 L171.41 178.83 L172.09 178.83 L172.09 179.8 L173.31 179.8 L173.31 178.22 L174.31 178.22 L174.31 178.73 L175.27 178.73 L175.27 178.41 L176.49 178.41 L176.49 179.22 L177.1 179.22 L177.1 178.36 L178.21 178.36 L178.21 178.84 L178.91 178.84 L178.91 178.9 L179.63 178.9 L179.63 178.03 L180.4 178.03 L180.4 179.49 L181.47 179.49 L181.47 178.16 L182.69 178.16 L182.69 179.53 L183.74 179.53 L183.74 178.58 L184.51 178.58 L184.51 178.33 L185.14 178.33 L185.14 178.49 L185.89 178.49 L185.89 179.42 L186.58 179.42 L186.58 178.45 L187.48 178.45 L187.48 178.78 L188.39 178.78 L188.39 178.76 L189.01 178.76 L189.01 178.55 L189.7 178.55 L189.7 179.62 L190.88 179.62 L190.88 178.75 L191.92 178.75 L191.92 178.5 L192.53 178.5 L192.53 178.38 L193.69 178.38 L193.69 179.51 L194.56 179.51 L194.56 179.7 L195.37 179.7 L195.37 178.97 L196.49 178.97 L196.49 179.44 L197.53 179.44 L197.53 178.48 L198.38 178.48 L198.38 178.62 L199.2 178.62 L199.2 178.92 L200.13 178.92 L200.13 178.94 L201.27 178.94 L201.27 176.25 L202.32 176.25 L202.32 175.46 L202.93 175.46 L202.93 174.98 L203.49 174.98 L203.49 174.91 L204.29 174.91 L204.29 173.34 L205.03 173.34 L205.03 177.37 L206.13 177.37 L206.13 176.24 L207.11 176.24 L207.11 177.93 L207.75 177.93 L207.75 177.6 L208.6 177.6 L208.6 178.82 L209.55 178.82 L209.55 179.32 L210.44 179.32 L210.44 178.49 L211.16 178.49 L211.16 179.27 L212.2 179.27 L212.2 179.46 L212.94 179.46 L212.94 179.27 L214.2 179.27 L214.2 178.94 L215.01 178.94 L215.01 178.24 L215.91 178.24 L215.91 176.49 L217.03 176.49 L217.03 178.96 L217.82 178.96 L217.82 179 L219.01 179 L219.01 179.71 L219.95 179.71 L219.95 179.89 L220.88 179.89 L220.88 179.61 L221.59 179.61 L221.59 177.11 L222.37 177.11 L222.37 178.49 L223.29 178.49 L223.29 176.64 L224.42 176.64 L224.42 179.31 L225.07 179.31 L225.07 179.74 L226.22 179.74 L226.22 179.33 L227.42 179.33 L227.42 178.68 L228.02 178.68 L228.02 179.16 L229.03 179.16 L229.03 179.2 L229.6 179.2 L229.6 182.7 L229.03 182.7 L229.03 182.7 L228.02 182.7 L228.02 182.7 L227.42 182.7 L227.42 182.7 L226.22 182.7 L226.22 182.69 L225.07 182.69 L225.07 182.69 L224.42 182.69 L224.42 182.69 L223.29 182.69 L223.29 182.69 L222.37 182.69 L222.37 182.69 L221.59 182.69 L221.59 182.69 L220.88 182.69 L220.88 182.68 L219.95 182.68 L219.95 182.68 L219.01 182.68 L219.01 182.68 L217.82 182.68 L217.82 182.68 L217.03 182.68 L217.03 182.68 L215.91 182.68 L215.91 182.68 L215.01 182.68 L215.01 182.67 L214.2 182.67 L214.2 182.67 L212.94 182.67 L212.94 182.67 L212.2 182.67 L212.2 182.67 L211.16 182.67 L211.16 182.67 L210.44 182.67 L210.44 182.67 L209.55 182.67 L209.55 182.67 L208.6 182.67 L208.6 182.66 L207.75 182.66 L207.75 182.66 L207.11 182.66 L207.11 182.66 L206.13 182.66 L206.13 182.66 L205.03 182.66 L205.03 182.66 L204.29 182.66 L204.29 182.66 L203.49 182.66 L203.49 182.66 L202.93 182.66 L202.93 182.65 L202.32 182.65 L202.32 182.65 L201.27 182.65 L201.27 182.65 L200.13 182.65 L200.13 182.65 L199.2 182.65 L199.2 182.65 L198.38 182.65 L198.38 182.65 L197.53 182.65 L197.53 182.64 L196.49 182.64 L196.49 182.64 L195.37 182.64 L195.37 182.64 L194.56 182.64 L194.56 182.64 L193.69 182.64 L193.69 182.64 L192.53 182.64 L192.53 182.64 L191.92 182.64 L191.92 182.64 L190.88 182.64 L190.88 182.63 L189.7 182.63 L189.7 182.63 L189.01 182.63 L189.01 182.63 L188.39 182.63 L188.39 182.63 L187.48 182.63 L187.48 182.63 L186.58 182.63 L186.58 182.63 L185.89 182.63 L185.89 182.63 L185.14 182.63 L185.14 182.62 L184.51 182.62 L184.51 182.62 L183.74 182.62 L183.74 182.62 L182.69 182.62 L182.69 182.62 L181.47 182.62 L181.47 182.62 L180.4 182.62 L180.4 182.62 L179.63 182.62 L179.63 182.61 L178.91 182.61 L178.91 182.61 L178.21 182.61 L178.21 182.61 L177.1 182.61 L177.1 182.61 L176.49 182.61 L176.49 182.61 L175.27 182.61 L175.27 182.61 L174.31 182.61 L174.31 182.61 L173.31 182.61 L173.31 182.6 L172.09 182.6 L172.09 182.6 L171.41 182.6 L171.41 182.6 L170.5 182.6Z" fill="#111"/>
<line x1="351.8" y1="33.6" x2="351.8" y2="63" stroke="#111" stroke-width="1.4"/>
<path d="M317.8 33.6 L318.3 63.5 L319 75 L319.5 83 L320.3 100 L321 118 L321.8 132 L322.5 145 L323.2 150" fill="none" stroke="#111" stroke-width="2.0" stroke-linejoin="round"/>
<path d="M322.3 145.19 L322.95 145.19 L322.95 147.83 L323.86 147.83 L323.86 152.02 L324.78 152.02 L324.78 156.75 L325.81 156.75 L325.81 159.67 L326.4 159.67 L326.4 161.23 L327.03 161.23 L327.03 162.84 L327.61 162.84 L327.61 164.59 L328.23 164.59 L328.23 166.94 L329.18 166.94 L329.18 169.85 L329.74 169.85 L329.74 173.09 L330.56 173.09 L330.56 172.67 L331.18 172.67 L331.18 174.44 L331.85 174.44 L331.85 174.43 L332.61 174.43 L332.61 176.16 L333.62 176.16 L333.62 175.78 L334.49 175.78 L334.49 177.31 L334.98 177.31 L334.98 176.08 L335.64 176.08 L335.64 177.14 L336.21 177.14 L336.21 177.05 L337.25 177.05 L337.25 178 L338.25 178 L338.25 177 L339.24 177 L339.24 176.44 L340.25 176.44 L340.25 174.96 L341.21 174.96 L341.21 178.04 L342.3 178.04 L342.3 177.86 L343.28 177.86 L343.28 177.79 L343.93 177.79 L343.93 179.66 L344.95 179.66 L344.95 179.27 L345.74 179.27 L345.74 179 L346 179 L346 182.64 L345.74 182.64 L345.74 182.22 L344.95 182.22 L344.95 182.44 L343.93 182.44 L343.93 182.39 L343.28 182.39 L343.28 182.25 L342.3 182.25 L342.3 182.31 L341.21 182.31 L341.21 181.92 L340.25 181.92 L340.25 181.99 L339.24 181.99 L339.24 182.06 L338.25 182.06 L338.25 181.75 L337.25 181.75 L337.25 181.62 L336.21 181.62 L336.21 181.97 L335.64 181.97 L335.64 181.82 L334.98 181.82 L334.98 181.88 L334.49 181.88 L334.49 181.38 L333.62 181.38 L333.62 181.86 L332.61 181.86 L332.61 181.83 L331.85 181.83 L331.85 180.65 L331.18 180.65 L331.18 180.45 L330.56 180.45 L330.56 179.55 L329.74 179.55 L329.74 178.69 L329.18 178.69 L329.18 177.13 L328.23 177.13 L328.23 175.94 L327.61 175.94 L327.61 174.91 L327.03 174.91 L327.03 173.69 L326.4 173.69 L326.4 172.44 L325.81 172.44 L325.81 169.27 L324.78 169.27 L324.78 164.99 L323.86 164.99 L323.86 158.65 L322.95 158.65 L322.95 153.59 L322.3 153.59Z" fill="#111"/>
<path d="M346 181.5 L346.5 165 L347.5 150 L348.5 140 L349.3 115 L350 100 L350.7 88 L351.3 62.6" fill="none" stroke="#111" stroke-width="2.2" stroke-linejoin="round"/>
<path d="M352.3 62.6 L352.8 88 L353.3 110 L353.8 140 L354.8 165 L356 168" fill="none" stroke="#111" stroke-width="2.2" stroke-linejoin="round"/>
<path d="M351.2 62.6 L352.5 62.6 L352.7 88.9 L353.5 89 L353.7 110 L350 110 L350.2 89 L351.1 88.9Z" fill="#111"/>
<path d="M354.8 162.88 L355.35 162.88 L355.35 166 L356.28 166 L356.28 169.47 L357.18 169.47 L357.18 170.74 L358.26 170.74 L358.26 172.31 L358.91 172.31 L358.91 172.69 L359.55 172.69 L359.55 173.77 L360.5 173.77 L360.5 173.62 L361.41 173.62 L361.41 174.31 L362.08 174.31 L362.08 173.92 L363 173.92 L363 175.59 L363.73 175.59 L363.73 174.68 L364.71 174.68 L364.71 175.91 L365.26 175.91 L365.26 175.98 L365.89 175.98 L365.89 176.32 L366.94 176.32 L366.94 177.36 L367.65 177.36 L367.65 177.01 L368.3 177.01 L368.3 177.14 L369.3 177.14 L369.3 176.66 L370.18 176.66 L370.18 176.64 L370.76 176.64 L370.76 177.37 L371.59 177.37 L371.59 175.62 L372 175.62 L372 180.8 L371.59 180.8 L371.59 180.33 L370.76 180.33 L370.76 180.27 L370.18 180.27 L370.18 180.81 L369.3 180.81 L369.3 180.26 L368.3 180.26 L368.3 179.79 L367.65 179.79 L367.65 179.79 L366.94 179.79 L366.94 180.28 L365.89 180.28 L365.89 179.48 L365.26 179.48 L365.26 179.73 L364.71 179.73 L364.71 179.8 L363.73 179.8 L363.73 179.53 L363 179.53 L363 178.93 L362.08 178.93 L362.08 179.57 L361.41 179.57 L361.41 179.44 L360.5 179.44 L360.5 178.7 L359.55 178.7 L359.55 178.02 L358.91 178.02 L358.91 178.03 L358.26 178.03 L358.26 177.66 L357.18 177.66 L357.18 177.04 L356.28 177.04 L356.28 174.78 L355.35 174.78 L355.35 171.06 L354.8 171.06Z" fill="#111"/>
<path d="M371.5 177.71 L372.73 177.71 L372.73 177.09 L373.28 177.09 L373.28 176.86 L374.35 176.86 L374.35 176.96 L375.01 176.96 L375.01 177.33 L376.26 177.33 L376.26 177.99 L376.81 177.99 L376.81 176.94 L377.98 176.94 L377.98 176.82 L379.01 176.82 L379.01 178.28 L380.17 178.28 L380.17 177.14 L381.43 177.14 L381.43 178.18 L382.14 178.18 L382.14 177.21 L382.93 177.21 L382.93 176.88 L383.98 176.88 L383.98 178.53 L384.72 178.53 L384.72 177.79 L385.45 177.79 L385.45 177.73 L386.15 177.73 L386.15 176.81 L387.31 176.81 L387.31 173.8 L388.48 173.8 L388.48 174.51 L389.59 174.51 L389.59 176.99 L390.29 176.99 L390.29 176.12 L391.5 176.12 L391.5 178.63 L392.41 178.63 L392.41 177.89 L393.12 177.89 L393.12 177.43 L393.98 177.43 L393.98 178.11 L394.83 178.11 L394.83 178.22 L395.42 178.22 L395.42 178.77 L396.37 178.77 L396.37 178.67 L397.17 178.67 L397.17 179.07 L398.12 179.07 L398.12 179.14 L399.33 179.14 L399.33 179.24 L400.33 179.24 L400.33 178.59 L401.16 178.59 L401.16 178.8 L402.33 178.8 L402.33 179.48 L403.58 179.48 L403.58 179.16 L404.48 179.16 L404.48 178.81 L405.7 178.81 L405.7 178.51 L406.25 178.51 L406.25 179.28 L406.89 179.28 L406.89 178.22 L407.56 178.22 L407.56 178.38 L408.77 178.38 L408.77 177.87 L409.81 177.87 L409.81 178.11 L410.87 178.11 L410.87 179.16 L411.61 179.16 L411.61 178.19 L412.51 178.19 L412.51 178.1 L413.69 178.1 L413.69 179.78 L414.3 179.78 L414.3 179.19 L414.92 179.19 L414.92 178.93 L415.5 178.93 L415.5 179.34 L416.37 179.34 L416.37 177.9 L417.52 177.9 L417.52 178.62 L418.46 178.62 L418.46 179.16 L419.29 179.16 L419.29 178.69 L420.19 178.69 L420.19 176.47 L420.86 176.47 L420.86 179.78 L422.08 179.78 L422.08 178.09 L422.88 178.09 L422.88 178.23 L423.58 178.23 L423.58 178.83 L424.35 178.83 L424.35 178.79 L425.48 178.79 L425.48 179.82 L426.25 179.82 L426.25 178.8 L427.44 178.8 L427.44 178.43 L428.23 178.43 L428.23 179.36 L429.08 179.36 L429.08 179.61 L429.68 179.61 L429.68 178.96 L430.87 178.96 L430.87 180.29 L431.98 180.29 L431.98 180.01 L432.87 180.01 L432.87 178.43 L433.49 178.43 L433.49 180.23 L434.38 180.23 L434.38 180.19 L435.19 180.19 L435.19 178.45 L436.34 178.45 L436.34 180.31 L437.55 180.31 L437.55 179.92 L438.62 179.92 L438.62 179.65 L439.37 179.65 L439.37 179.76 L439.94 179.76 L439.94 179.67 L441.12 179.67 L441.12 180.41 L442.34 180.41 L442.34 178.77 L442.99 178.77 L442.99 179.32 L443.89 179.32 L443.89 179.92 L444.78 179.92 L444.78 179.86 L446.02 179.86 L446.02 180.36 L446.59 180.36 L446.59 179.17 L447.18 179.17 L447.18 179.26 L448.33 179.26 L448.33 179.49 L449.28 179.49 L449.28 179.81 L450.15 179.81 L450.15 180.03 L451.25 180.03 L451.25 180.46 L452.22 180.46 L452.22 177.95 L453.26 177.95 L453.26 179.11 L453.98 179.11 L453.98 180.77 L454.58 180.77 L454.58 177.3 L455.13 177.3 L455.13 179.54 L455.91 179.54 L455.91 180.37 L456.91 180.37 L456.91 178.98 L457.73 178.98 L457.73 179.72 L458.52 179.72 L458.52 180.23 L459.5 180.23 L459.5 180.77 L460.55 180.77 L460.55 180.69 L461.52 180.69 L461.52 179.82 L462.28 179.82 L462.28 179.58 L463.42 179.58 L463.42 178.12 L464.53 178.12 L464.53 179.99 L465.72 179.99 L465.72 179.98 L466.9 179.98 L466.9 179.36 L467.45 179.36 L467.45 180.66 L468.47 180.66 L468.47 177.01 L469.26 177.01 L469.26 179.09 L470.08 179.09 L470.08 180.83 L470.99 180.83 L470.99 179.01 L471.64 179.01 L471.64 180.93 L472.36 180.93 L472.36 180.3 L473.61 180.3 L473.61 180.63 L474.39 180.63 L474.39 181.09 L475.58 181.09 L475.58 179.41 L476.62 179.41 L476.62 181.08 L477.38 181.08 L477.38 179.19 L478.15 179.19 L478.15 180.92 L479.13 180.92 L479.13 181.03 L480.17 181.03 L480.17 181.09 L480.96 181.09 L480.96 180.79 L481.54 180.79 L481.54 178.13 L482.2 178.13 L482.2 179.47 L483.36 179.47 L483.36 179.59 L484.43 179.59 L484.43 180.11 L485.05 180.11 L485.05 180.49 L486.19 180.49 L486.19 179.95 L487.14 179.95 L487.14 180.67 L487.92 180.67 L487.92 179.81 L489.11 179.81 L489.11 181.09 L489.74 181.09 L489.74 180.24 L490.35 180.24 L490.35 178.78 L491.14 178.78 L491.14 180.88 L492.21 180.88 L492.21 179.89 L493.14 179.89 L493.14 180.17 L494.03 180.17 L494.03 181.06 L495.22 181.06 L495.22 180.35 L496.05 180.35 L496.05 180.8 L497.16 180.8 L497.16 180.14 L497.7 180.14 L497.7 180.57 L498.8 180.57 L498.8 179.99 L499.45 179.99 L499.45 180.89 L500.47 180.89 L500.47 180.69 L501.61 180.69 L501.61 180.62 L502.62 180.62 L502.62 181.29 L503.2 181.29 L503.2 184 L502.62 184 L502.62 184 L501.61 184 L501.61 183.99 L500.47 183.99 L500.47 183.98 L499.45 183.98 L499.45 183.98 L498.8 183.98 L498.8 183.97 L497.7 183.97 L497.7 183.97 L497.16 183.97 L497.16 183.97 L496.05 183.97 L496.05 183.96 L495.22 183.96 L495.22 183.96 L494.03 183.96 L494.03 183.95 L493.14 183.95 L493.14 183.95 L492.21 183.95 L492.21 183.94 L491.14 183.94 L491.14 183.93 L490.35 183.93 L490.35 183.93 L489.74 183.93 L489.74 183.93 L489.11 183.93 L489.11 183.92 L487.92 183.92 L487.92 183.92 L487.14 183.92 L487.14 183.91 L486.19 183.91 L486.19 183.91 L485.05 183.91 L485.05 183.9 L484.43 183.9 L484.43 183.9 L483.36 183.9 L483.36 183.89 L482.2 183.89 L482.2 183.89 L481.54 183.89 L481.54 183.88 L480.96 183.88 L480.96 183.88 L480.17 183.88 L480.17 183.88 L479.13 183.88 L479.13 183.87 L478.15 183.87 L478.15 183.87 L477.38 183.87 L477.38 183.86 L476.62 183.86 L476.62 183.86 L475.58 183.86 L475.58 183.85 L474.39 183.85 L474.39 183.85 L473.61 183.85 L473.61 183.84 L472.36 183.84 L472.36 183.83 L471.64 183.83 L471.64 183.83 L470.99 183.83 L470.99 183.83 L470.08 183.83 L470.08 183.82 L469.26 183.82 L469.26 183.82 L468.47 183.82 L468.47 183.81 L467.45 183.81 L467.45 183.81 L466.9 183.81 L466.9 183.8 L465.72 183.8 L465.72 183.8 L464.53 183.8 L464.53 183.79 L463.42 183.79 L463.42 183.79 L462.28 183.79 L462.28 183.78 L461.52 183.78 L461.52 183.78 L460.55 183.78 L460.55 183.77 L459.5 183.77 L459.5 183.77 L458.52 183.77 L458.52 183.76 L457.73 183.76 L457.73 183.76 L456.91 183.76 L456.91 183.75 L455.91 183.75 L455.91 183.75 L455.13 183.75 L455.13 183.74 L454.58 183.74 L454.58 183.74 L453.98 183.74 L453.98 183.74 L453.26 183.74 L453.26 183.73 L452.22 183.73 L452.22 183.73 L451.25 183.73 L451.25 183.72 L450.15 183.72 L450.15 183.72 L449.28 183.72 L449.28 183.71 L448.33 183.71 L448.33 183.71 L447.18 183.71 L447.18 183.7 L446.59 183.7 L446.59 183.7 L446.02 183.7 L446.02 183.69 L444.78 183.69 L444.78 183.69 L443.89 183.69 L443.89 183.68 L442.99 183.68 L442.99 183.68 L442.34 183.68 L442.34 183.67 L441.12 183.67 L441.12 183.67 L439.94 183.67 L439.94 183.66 L439.37 183.66 L439.37 183.66 L438.62 183.66 L438.62 183.65 L437.55 183.65 L437.55 183.65 L436.34 183.65 L436.34 183.64 L435.19 183.64 L435.19 183.64 L434.38 183.64 L434.38 183.63 L433.49 183.63 L433.49 183.63 L432.87 183.63 L432.87 183.62 L431.98 183.62 L431.98 183.62 L430.87 183.62 L430.87 183.61 L429.68 183.61 L429.68 183.61 L429.08 183.61 L429.08 183.6 L428.23 183.6 L428.23 183.6 L427.44 183.6 L427.44 183.59 L426.25 183.59 L426.25 183.59 L425.48 183.59 L425.48 183.58 L424.35 183.58 L424.35 183.58 L423.58 183.58 L423.58 183.58 L422.88 183.58 L422.88 183.57 L422.08 183.57 L422.08 183.57 L420.86 183.57 L420.86 183.56 L420.19 183.56 L420.19 183.56 L419.29 183.56 L419.29 183.55 L418.46 183.55 L418.46 183.55 L417.52 183.55 L417.52 183.54 L416.37 183.54 L416.37 183.54 L415.5 183.54 L415.5 183.53 L414.92 183.53 L414.92 183.53 L414.3 183.53 L414.3 183.53 L413.69 183.53 L413.69 183.52 L412.51 183.52 L412.51 183.52 L411.61 183.52 L411.61 183.51 L410.87 183.51 L410.87 183.51 L409.81 183.51 L409.81 183.5 L408.77 183.5 L408.77 183.5 L407.56 183.5 L407.56 183.49 L406.89 183.49 L406.89 183.49 L406.25 183.49 L406.25 183.48 L405.7 183.48 L405.7 183.48 L404.48 183.48 L404.48 183.47 L403.58 183.47 L403.58 183.47 L402.33 183.47 L402.33 183.46 L401.16 183.46 L401.16 183.46 L400.33 183.46 L400.33 183.45 L399.33 183.45 L399.33 183.44 L398.12 183.44 L398.12 183.44 L397.17 183.44 L397.17 183.43 L396.37 183.43 L396.37 183.43 L395.42 183.43 L395.42 183.43 L394.83 183.43 L394.83 183.42 L393.98 183.42 L393.98 183.42 L393.12 183.42 L393.12 183.41 L392.41 183.41 L392.41 183.41 L391.5 183.41 L391.5 183.4 L390.29 183.4 L390.29 183.4 L389.59 183.4 L389.59 183.39 L388.48 183.39 L388.48 183.39 L387.31 183.39 L387.31 183.38 L386.15 183.38 L386.15 183.38 L385.45 183.38 L385.45 183.37 L384.72 183.37 L384.72 183.37 L383.98 183.37 L383.98 183.36 L382.93 183.36 L382.93 183.36 L382.14 183.36 L382.14 183.35 L381.43 183.35 L381.43 183.35 L380.17 183.35 L380.17 183.34 L379.01 183.34 L379.01 183.34 L377.98 183.34 L377.98 183.33 L376.81 183.33 L376.81 183.33 L376.26 183.33 L376.26 183.32 L375.01 183.32 L375.01 183.32 L374.35 183.32 L374.35 183.31 L373.28 183.31 L373.28 183.31 L372.73 183.31 L372.73 183.3 L371.5 183.3Z" fill="#111"/>
<line x1="79.1" y1="253.8" x2="79.1" y2="294.5" stroke="#111" stroke-width="1.4"/>
<path d="M41 400.16 L41.5 400.27 L42 400.19 L42.5 400.21 L43 400.16 L43.5 400.42 L44 399.97 L44.5 400.37 L45 399.67 L45.5 399.98 L46 400 L46.5 399.77 L47 400.46 L47.5 399.94 L48 400.5 L48.5 400.69 L49 399.83 L49.5 400.61 L50 400.49 L50.5 400.31 L51 399.48 L51.5 400.02 L52 400.23 L52.5 399.78 L53 399.67 L53.5 399.77 L54 399.69 L54.5 400.41 L55 399.79 L55.5 399.49 L56 399.25 L56.5 398.88 L57 398.3 L57.5 398.57 L58 399.48 L58.5 399.92 L59 400.41 L59.5 400.02 L60 399.6 L60.5 399.47 L61 399.67 L61.5 399.87 L62 399.31 L62.5 400.18 L63 400.2 L63.5 399.19 L64 400.34 L64.5 399.83 L65 400.41 L65.5 399.78 L66 400.21 L66.56 399.45 L67.12 399.29 L67.68 398.9 L68.24 398.47 L68.8 398.3 L69.4 398.99 L70 399.89 L70.5 399.94 L71 400.19 L71.5 400.34 L72 400.24 L72.5 400.29 L73 400.45 L73.5 400.59 L74 400.6" fill="none" stroke="#111" stroke-width="1.8" stroke-linejoin="round"/>
<path d="M74.3 401 L75.2 382 L76.2 365 L77.5 347 L78.3 325 L79 300 L79.4 294.2" fill="none" stroke="#111" stroke-width="2.0" stroke-linejoin="round"/>
<path d="M79.4 294.2 L79.9 302 L80.5 326 L81.4 350.7 L82.2 376 L82.7 386 L83.4 390" fill="none" stroke="#111" stroke-width="2.0" stroke-linejoin="round"/>
<path d="M78.5 305 L79.3 294 L80 302 L80.7 328 L78.1 328Z" fill="#111"/>
<path d="M73.6 390 L76.2 390 L75.6 401 L73.4 401Z" fill="#999"/>
<path d="M82.5 388.49 L83.31 388.49 L83.31 390.21 L84.31 390.21 L84.31 389.15 L85.41 389.15 L85.41 388.77 L86.07 388.77 L86.07 389.58 L87.04 389.58 L87.04 390.3 L87.97 390.3 L87.97 389.66 L88.87 389.66 L88.87 389.94 L89.43 389.94 L89.43 389.03 L89.92 389.03 L89.92 385.88 L90.65 385.88 L90.65 389.41 L91.61 389.41 L91.61 390.14 L92.25 390.14 L92.25 390.86 L93.05 390.86 L93.05 389.68 L93.73 389.68 L93.73 390.15 L94.75 390.15 L94.75 389.2 L95.84 389.2 L95.84 388.52 L96.58 388.52 L96.58 390.46 L97.69 390.46 L97.69 390.68 L98.21 390.68 L98.21 387.67 L99.21 387.67 L99.21 389.94 L100.25 389.94 L100.25 388.34 L100.83 388.34 L100.83 389.59 L101.76 389.59 L101.76 388.93 L102.6 388.93 L102.6 389.2 L103.69 389.2 L103.69 389.54 L104.31 389.54 L104.31 390.2 L105.13 390.2 L105.13 388.63 L106.18 388.63 L106.18 390.18 L107.07 390.18 L107.07 390.6 L107.74 390.6 L107.74 390.7 L108.28 390.7 L108.28 389.13 L109.36 389.13 L109.36 388.95 L110.14 388.95 L110.14 389.55 L111.26 389.55 L111.26 389.71 L111.83 389.71 L111.83 389.36 L112.83 389.36 L112.83 389.6 L113.5 389.6 L113.5 395.63 L112.83 395.63 L112.83 397.01 L111.83 397.01 L111.83 397.74 L111.26 397.74 L111.26 396.14 L110.14 396.14 L110.14 397.26 L109.36 397.26 L109.36 397.71 L108.28 397.71 L108.28 397.32 L107.74 397.32 L107.74 397.22 L107.07 397.22 L107.07 396.78 L106.18 396.78 L106.18 395.68 L105.13 395.68 L105.13 396.49 L104.31 396.49 L104.31 398.31 L103.69 398.31 L103.69 397.15 L102.6 397.15 L102.6 396.96 L101.76 396.96 L101.76 396.06 L100.83 396.06 L100.83 396.28 L100.25 396.28 L100.25 395.81 L99.21 395.81 L99.21 397.95 L98.21 397.95 L98.21 395.74 L97.69 395.74 L97.69 397.85 L96.58 397.85 L96.58 396.19 L95.84 396.19 L95.84 396.3 L94.75 396.3 L94.75 397.25 L93.73 397.25 L93.73 396.73 L93.05 396.73 L93.05 395.66 L92.25 395.66 L92.25 395.81 L91.61 395.81 L91.61 397.37 L90.65 397.37 L90.65 396.57 L89.92 396.57 L89.92 397.22 L89.43 397.22 L89.43 396.49 L88.87 396.49 L88.87 395.96 L87.97 395.96 L87.97 397.29 L87.04 397.29 L87.04 396.35 L86.07 396.35 L86.07 398.28 L85.41 398.28 L85.41 398.03 L84.31 398.03 L84.31 398.29 L83.31 398.29 L83.31 395.74 L82.5 395.74Z" fill="#111"/>
<path d="M113 393 L114.2 386 L115.4 379 L116.4 372 L117.2 366.5 L118 370 L118.9 366 L119.7 369.5 L120.5 377 L121.3 385 L122 392.3 L123 397.5 L124.2 399.8 L126 401 L123 400.8 L120 397.5 L115 397 L113 397Z" fill="#111"/>
<path d="M125 400.18 L125.5 400.66 L126 400.32 L126.5 400.18 L127 400.47 L127.5 400.47 L128 400.45 L128.5 400.43 L129 400.22 L129.5 400.2 L130 400.66 L130.5 400.27 L131 400.63 L131.5 400.75 L132 400.83 L132.5 400.91 L133 400.14 L133.5 400.14 L134 400.67 L134.5 400.5 L135 400.08 L135.5 400.6 L136 400.81 L136.5 400.77 L137 400.08 L137.5 400.16 L138 399.83 L138.5 400.91 L139 400.06 L139.5 400.63 L140 400.41 L140.5 400.47 L141 400.39 L141.5 400.72 L142 400.46 L142.5 400.11 L143 399.89 L143.5 400.31 L144 400.82 L144.5 399.91 L145 400.54 L145.5 400.47 L146 399.9 L146.5 399.95 L147 400.52 L147.5 399.88 L148 399.48 L148.5 399.26 L149 398.17 L149.5 399.08 L150 398.51 L150.5 398.25 L151 397.64 L151.5 398.71 L152 398.64 L152.5 397.77 L153 396.38 L153.5 396.4 L154 396.26 L154.5 395.89 L155 397.44 L155.5 397.23 L156 396.35 L156.5 398.46 L157 397.76 L157.5 398.29 L158 398.44 L158.5 398.17 L159 397.87 L159.5 399.09 L160 397.12 L160.5 398.81 L161 399.54 L161.5 399.16 L162 400.06 L162.5 399.62 L163 399.91 L163.5 399.74 L164 399.89 L164.5 400.26 L165 399.6 L165.5 399.84 L166 400.45 L166.5 399.81 L167 399.61 L167.5 400.65 L168 400.11 L168.5 399.5 L169 400.16 L169.5 399.67 L170 399.69 L170.5 400.38 L171 400.28 L171.5 400.02 L172 400.13 L172.5 400.19 L173 400.08 L173.5 399.67 L174 400.45 L174.5 400.46 L175 400.06 L175.5 400.04 L176 400.29 L176.5 400.13 L177 400.08 L177.5 400.61 L178 400.65 L178.5 399.79 L179 399.82 L179.5 400.53 L180 400.73 L180.5 400.48 L181 399.99 L181.5 399.72 L182 400.61 L182.5 400.73 L183 400.54 L183.5 400.52 L184 400.79 L184.5 400.29 L185 400.76 L185.5 400.01 L186 399.8 L186.5 400.67 L187 400.52 L187.5 400.63 L188 399.89 L188.5 400.09 L189 400.41 L189.5 399.84 L190 400.14 L190.5 400.45 L191 400.83 L191.5 400.59 L192 400.24 L192.5 400.26 L193 400.38 L193.5 400.64 L194 400.92 L194.5 399.84 L195 400.86 L195.5 400.73 L196 399.9 L196.5 400.14 L197 400.16 L197.5 400.11 L198 400.05 L198.5 400.03 L199 400.63 L199.5 400.37 L200 400.02 L200.5 400.83 L201 400.82 L201.5 400.21 L202 400.83 L202.5 400.78 L203 400.52 L203.5 400.05 L204 400.72 L204.5 400.9 L205 400.92 L205.5 401 L206 400.16 L206.5 401.03 L207 400.1 L207.5 400.39 L208 400.58 L208.5 400.7 L209 400.59 L209.5 400.99 L210 400.86 L210.5 400.95 L211 400.77 L211.5 400.54 L212 400.09 L212.5 400.75 L213 401.06 L213.5 400.28 L214 401.13 L214.5 400.12 L215 400.52 L215.5 400.89 L216 400.86 L216.5 400.73 L217 400.42 L217.5 400.39 L218 400.29 L218.5 400.82 L219 400.18 L219.5 400.3 L220 400.91 L220.5 400.64 L221 400.2 L221.5 400.63 L222 401.14 L222.5 400.73 L223 400.49 L223.5 400.36 L224 400.73 L224.5 400.48 L225 400.52 L225.5 400.31 L226 400.87 L226.5 401.06 L227 400.78 L227.5 400.89 L228 400.57 L228.5 401.28 L229 400.58 L229.5 401.22" fill="none" stroke="#111" stroke-width="1.8" stroke-linejoin="round"/>
<line x1="351.9" y1="254.8" x2="351.9" y2="270" stroke="#111" stroke-width="1.4"/>
<path d="M315.6 254.8 L315.6 340 L315.8 369 L316.3 380.8 L317.5 388.5 L319 392.3" fill="none" stroke="#111" stroke-width="2.0" stroke-linejoin="round"/>
<path d="M319 392.48 L319.5 392.95 L320 392.96 L320.5 393.27 L321 393.39 L321.5 394.79 L322 393.78 L322.5 393.68 L323 394.08 L323.5 394.26 L324 394.57 L324.5 394.64 L325 394.5 L325.5 395.11 L326 395.26 L326.5 395.96 L327 395.4 L327.5 395.41 L328 395.93 L328.5 396.83 L329 396.79 L329.5 397.67 L330 398.03 L330.5 397.6 L331 397.33 L331.5 398.62 L332 398.91 L332.5 398.4 L333 398.89 L333.5 398.39 L334 399.42 L334.5 399.36 L335 399.36 L335.5 399.67 L336 398.65 L336.5 399.19 L337 399.53 L337.5 399.7 L338 399.17 L338.5 398.87 L339 399.64 L339.5 398.97 L340 399.89 L340.5 398.98 L341 399.64 L341.5 399.72 L342 399.33 L342.5 399.83 L343 399.9 L343.5 399.81 L344 400.42 L344.5 400.42 L345 400.48 L345.5 399.91 L346 399.78 L346.5 400.15 L347 399.99" fill="none" stroke="#111" stroke-width="2.0" stroke-linejoin="round"/>
<path d="M347.7 400.5 L348.3 385 L349 360 L349.8 327 L350.5 290 L351 275 L351.9 268 L352.5 278 L352.8 300 L353 327 L353.4 360 L354 385 L355 397.5 L357.5 400 L360 400.6" fill="none" stroke="#111" stroke-width="1.8" stroke-linejoin="round"/>
<path d="M350.9 275 L352.5 275 L352.9 320 L349.7 330Z" fill="#111"/>
<path d="M360 401.01 L360.5 400.79 L361 400.88 L361.5 401.03 L362 400.39 L362.5 400.78 L363 401.05 L363.5 401.03 L364 400.74 L364.5 400.34 L365 400.59 L365.5 401.18 L366 400.3 L366.5 400.53 L367 401.16 L367.5 400.67 L368 400.44 L368.5 400.56 L369 401.16 L369.5 400.59 L370 400.69 L370.5 400.9 L371 401.09 L371.5 400.78 L372 400.38 L372.5 400.88 L373 400.35 L373.5 400.41 L374 400.52 L374.5 401.03 L375 400.63 L375.5 401.04 L376 400.52 L376.5 400.49 L377 400.4 L377.5 401.09 L378 401.25 L378.5 400.62 L379 400.65 L379.5 400.43 L380 401.07 L380.5 400.74 L381 400.58 L381.5 401.1 L382 401.06 L382.5 400.91 L383 400.63 L383.5 401.12 L384 401.05 L384.5 400.93 L385 400.18 L385.5 399.94 L386 399.2 L387.3 398 L388.7 397.4 L390.2 398 L391.5 399.5 L392 399.98 L392.5 400.55 L393 400.89 L393.5 401.21 L394 401.07 L394.5 401.37 L395 401.32 L395.5 401.27 L396 401.6 L396.5 401.51 L397 401.08 L397.5 401.54 L398 401.01 L398.5 401.4 L399 401.2 L399.5 401.45 L400 401.59 L400.5 401.34 L401 401.48 L401.5 401.05 L402 401.42 L402.5 401.1 L403 401.3 L403.5 401.23 L404 401.07 L404.5 401.48 L405 401.09 L405.5 401.19 L406 401.09 L406.5 401.43 L407 401.22 L407.5 401.06 L408 401.06 L408.5 401.17 L409 401.35 L409.5 401.05 L410 401.06 L410.5 401.45 L411 401.36 L411.5 401.13 L412 401.24 L412.5 401.13 L413 401.22 L413.5 401.29 L414 401.19 L414.5 401.18 L415 401.19 L415.5 401.24 L416 401.39 L416.5 401.59 L417 401.45 L417.5 401.33 L418 401.07 L418.5 401.18 L419 401.45 L419.5 401.31 L420 401.58 L420.5 401.62 L421 401.25 L421.5 401.3 L422 401.26 L422.5 401.49 L423 401.14 L423.5 401.25 L424 401.61 L424.5 401.31 L425 401.67 L425.5 401.33 L426 401.59 L426.5 401.37 L427 401.15 L427.5 401.44 L428 401.22 L428.5 401.65 L429 401.52 L429.5 401.42 L430 401.65 L430.5 401.43 L431 401.68 L431.5 401.53 L432 401.21 L432.5 401.28 L433 401.62 L433.5 401.17 L434 401.7 L434.5 401.14 L435 401.56 L435.5 401.49 L436 401.36 L436.5 401.48 L437 401.47 L437.5 401.34 L438 401.29 L438.5 401.15 L439 401.52 L439.5 401.65 L440 401.35 L440.5 401.64 L441 401.37 L441.5 401.28 L442 401.61 L442.5 401.69 L443 401.19 L443.5 401.66 L444 401.33 L444.5 401.6 L445 401.32 L445.5 401.74 L446 401.35 L446.5 401.27 L447 401.18 L447.5 401.23 L448 401.2 L448.5 401.64 L449 401.16 L449.5 401.22 L450 401.3 L450.5 401.24 L451 401.62 L451.5 401.16 L452 401.57 L452.5 401.37 L453 401.25 L453.5 401.3 L454 401.48 L454.5 401.32 L455 401.4 L455.5 401.4 L456 401.49 L456.5 401.59 L457 401.35 L457.5 401.54 L458 401.61 L458.5 401.36 L459 401.64 L459.5 401.23 L460 401.48 L460.5 401.4 L461 401.26 L461.5 401.58 L462 401.7 L462.5 401.48 L463 401.4 L463.5 401.73 L464 401.79 L464.5 401.57 L465 401.53 L465.5 401.58 L466 401.62 L466.5 401.61 L467 401.52 L467.5 401.65 L468 401.65 L468.5 401.59 L469 401.52 L469.5 401.43 L470 401.34 L470.5 401.52 L471 401.4 L471.5 401.5 L472 401.32 L472.5 401.76 L473 401.3 L473.5 401.75 L474 401.56 L474.5 401.77 L475 401.75 L475.5 401.33 L476 401.39 L476.5 401.83 L477 401.63 L477.5 401.28 L478 401.39 L478.5 401.29 L479 401.42 L479.5 401.28 L480 401.26 L480.5 401.26 L481 401.52 L481.5 401.67 L482 401.55 L482.5 401.65 L483 401.64 L483.5 401.33 L484 401.67 L484.5 401.55 L485 401.5 L485.5 401.83 L486 401.53 L486.5 401.67 L487 401.72 L487.5 401.55 L488 401.35 L488.5 401.37 L489 401.44 L489.5 401.38 L490 401.5 L490.5 401.31 L491 401.73 L491.5 401.73 L492 401.65 L492.5 401.34 L493 401.4 L493.5 401.81 L494 401.8 L494.5 401.71 L495 401.8 L495.5 401.4 L496 401.45 L496.5 401.54 L497 401.57 L497.5 401.5 L498 401.43 L498.5 401.78 L499 401.4 L499.5 401.63 L500 401.78 L500.5 401.38 L501 401.5 L501.5 401.52 L502 401.47 L502.5 401.85 L503 401.83" fill="none" stroke="#111" stroke-width="1.8" stroke-linejoin="round"/>
<line x1="81" y1="475.5" x2="81" y2="518" stroke="#111" stroke-width="1.6"/>
<path d="M43.3 513 L44.5 511.5 L45.8 513 L46.9 520 L47.5 530 L47.6 545 L47.2 556 L45.8 562 L44.8 569.5 L43.3 569.5Z" fill="#111"/>
<path d="M47.4 540 L47.8 557.7 L48.5 577 L50 588 L51.5 596 L53.5 603 L55.4 607.7 L59.2 613.5 L67 616.3 L76.5 617.6" fill="none" stroke="#111" stroke-width="2.1" stroke-linejoin="round"/>
<path d="M50 588.23 L50.66 588.23 L50.66 593.5 L51.7 593.5 L51.7 596.64 L52.69 596.64 L52.69 598.29 L53.58 598.29 L53.58 600.49 L54.27 600.49 L54.27 603.9 L55.38 603.9 L55.38 604.68 L56.51 604.68 L56.51 607.81 L57.41 607.81 L57.41 609.29 L58.32 609.29 L58.32 610.89 L59.03 610.89 L59.03 612.01 L59.57 612.01 L59.57 611.58 L60.38 611.58 L60.38 611.1 L61.34 611.1 L61.34 614.18 L61.93 614.18 L61.93 613.84 L63.04 613.84 L63.04 614.4 L63.75 614.4 L63.75 613.98 L64.46 613.98 L64.46 615.61 L65.03 615.61 L65.03 615.01 L66.28 615.01 L66.28 616.18 L67.36 616.18 L67.36 616.24 L68.53 616.24 L68.53 616.85 L69.51 616.85 L69.51 617 L70 617 L70 619.21 L69.51 619.21 L69.51 619.23 L68.53 619.23 L68.53 619.11 L67.36 619.11 L67.36 618.73 L66.28 618.73 L66.28 618.47 L65.03 618.47 L65.03 618.73 L64.46 618.73 L64.46 618.54 L63.75 618.54 L63.75 618.66 L63.04 618.66 L63.04 618.36 L61.93 618.36 L61.93 618.3 L61.34 618.3 L61.34 618.04 L60.38 618.04 L60.38 617.78 L59.57 617.78 L59.57 616.95 L59.03 616.95 L59.03 616.65 L58.32 616.65 L58.32 615.23 L57.41 615.23 L57.41 614.12 L56.51 614.12 L56.51 613.03 L55.38 613.03 L55.38 610.91 L54.27 610.91 L54.27 608.23 L53.58 608.23 L53.58 606.65 L52.69 606.65 L52.69 604.94 L51.7 604.94 L51.7 600.8 L50.66 600.8 L50.66 595.73 L50 595.73Z" fill="#111"/>
<path d="M77.8 618.8 L78.4 600 L79.3 577 L79.9 560 L80.3 540 L80.6 518 L81 515" fill="none" stroke="#111" stroke-width="2.1" stroke-linejoin="round"/>
<path d="M81 515 L81.5 520 L82.2 538 L82.6 560 L83.3 577 L84.2 596 L85 603" fill="none" stroke="#111" stroke-width="2.2" stroke-linejoin="round"/>
<path d="M84.2 602.31 L85.29 602.31 L85.29 602.71 L85.86 602.71 L85.86 605.58 L86.36 605.58 L86.36 607.87 L87.48 607.87 L87.48 608.79 L88.08 608.79 L88.08 609.78 L88.63 609.78 L88.63 610.73 L89.53 610.73 L89.53 610.8 L90.23 610.8 L90.23 612.69 L91.28 612.69 L91.28 611.92 L91.91 611.92 L91.91 611.89 L93 611.89 L93 612.68 L93.69 612.68 L93.69 612.18 L94.55 612.18 L94.55 613.9 L95.63 613.9 L95.63 612.73 L96.55 612.73 L96.55 615.07 L97.62 615.07 L97.62 614.3 L98.55 614.3 L98.55 615.53 L99.06 615.53 L99.06 614.96 L100.11 614.96 L100.11 615.15 L100.96 615.15 L100.96 614.17 L101.64 614.17 L101.64 614.24 L102.24 614.24 L102.24 614.52 L103.27 614.52 L103.27 615.77 L104.12 615.77 L104.12 614.2 L105.2 614.2 L105.2 614.21 L106.18 614.21 L106.18 614.91 L107.27 614.91 L107.27 615.54 L108.11 615.54 L108.11 614.18 L109.04 614.18 L109.04 614.25 L109.91 614.25 L109.91 615.05 L110.56 615.05 L110.56 615.32 L111.65 615.32 L111.65 613.5 L112.33 613.5 L112.33 616.22 L113.31 616.22 L113.31 615.73 L114.4 615.73 L114.4 614.12 L115.3 614.12 L115.3 616.11 L115.87 616.11 L115.87 615.67 L116 615.67 L116 618.38 L115.87 618.38 L115.87 618.79 L115.3 618.79 L115.3 618.26 L114.4 618.26 L114.4 618.25 L113.31 618.25 L113.31 618.23 L112.33 618.23 L112.33 618.26 L111.65 618.26 L111.65 618.28 L110.56 618.28 L110.56 618.54 L109.91 618.54 L109.91 618.38 L109.04 618.38 L109.04 618.56 L108.11 618.56 L108.11 618.52 L107.27 618.52 L107.27 618.2 L106.18 618.2 L106.18 618.01 L105.2 618.01 L105.2 618.44 L104.12 618.44 L104.12 617.96 L103.27 617.96 L103.27 617.88 L102.24 617.88 L102.24 618.25 L101.64 618.25 L101.64 618.19 L100.96 618.19 L100.96 618.15 L100.11 618.15 L100.11 617.97 L99.06 617.97 L99.06 618.01 L98.55 618.01 L98.55 618.05 L97.62 618.05 L97.62 618.04 L96.55 618.04 L96.55 617.84 L95.63 617.84 L95.63 617.56 L94.55 617.56 L94.55 617.45 L93.69 617.45 L93.69 616.83 L93 616.83 L93 616.56 L91.91 616.56 L91.91 616.48 L91.28 616.48 L91.28 615.67 L90.23 615.67 L90.23 615.07 L89.53 615.07 L89.53 615.06 L88.63 615.06 L88.63 613.76 L88.08 613.76 L88.08 612.57 L87.48 612.57 L87.48 610.7 L86.36 610.7 L86.36 609.35 L85.86 609.35 L85.86 607.83 L85.29 607.83 L85.29 605.22 L84.2 605.22Z" fill="#111"/>
<path d="M80.1 518 L82 518 L82.8 540 L80.2 540Z" fill="#111"/>
<path d="M116 617.42 L116.57 616.8 L117.13 616.13 L117.7 615.5 L119 612 L120.5 609 L121.7 607.5 L123 609 L124.5 612 L125.8 614.6 L128 616 L128.5 616.19 L129 616.3 L129.5 616.52 L130 616.37 L130.5 616.53 L131 616.93 L131.5 616.71 L132 617.07 L132.5 616.55 L133 616.67 L133.5 617.62 L134 617.26 L134.5 617.46 L135 617.87 L135.5 617.28 L136 616.8 L136.5 617.98 L137 617.67 L137.5 617.79 L138 617.74 L138.5 618.32 L139 617.33 L139.5 617.99 L140 617.36 L140.5 617.7 L141 617.86 L141.5 617.29 L142 616.91 L142.5 617.57 L143 617.99 L143.5 617.78 L144 617.55 L144.5 617.88 L145 617.11 L145.5 617.11 L146 617.36 L146.5 618.21 L147 617.16 L147.5 617.02 L148 617 L148.5 616.9 L149 617.32 L149.5 617.84 L150 618.29 L150.5 617.44 L151 617.51 L151.5 617.37 L152 617.41 L152.5 618.26 L153 617.86 L153.5 617.35 L154 617.08 L154.5 618.3 L155 618.17 L155.5 618.15 L156 616.81 L156.5 617.14 L157 617.61 L157.5 616.73 L158 617.19 L158.5 615.57 L159 617.13 L159.5 615.22 L160 615.88 L160.5 615.03 L161 616.54 L161.5 616.24 L162 616.75 L162.5 616.58 L163 617.03 L163.5 616.4 L164 617.43 L164.5 617.14 L165 616.57 L165.5 617.89 L166 616.98 L166.5 616.66 L167 616.45 L167.5 617.16 L168 616.69 L168.5 618.02 L169 618.06 L169.5 616.74 L170 616.55 L170.5 617.32 L171 616.69 L171.5 617.37 L172 617.86 L172.5 616.86 L173 617.17 L173.5 618.04 L174 617.23 L174.5 617.05 L175 618.05 L175.5 617.92 L176 618.07 L176.5 617.71 L177 617.22 L177.5 617.73 L178 617.99 L178.5 617.65 L179 616.94 L179.5 617.05 L180 617.26 L180.5 617.92 L181 617.54 L181.5 617.54 L182 618.04 L182.5 616.76 L183 617.71 L183.5 617.18 L184 617.59 L184.5 618.1 L185 617.05 L185.5 618.32 L186 616.76 L186.5 617.64 L187 617.61 L187.5 617.07 L188 617.66 L188.5 617.51 L189 617.48 L189.5 617.97 L190 616.69 L190.5 617.37 L191 618.11 L191.5 616.96 L192 618.28 L192.5 617.09 L193 617.96 L193.5 617.05 L194 617.56 L194.5 617.52 L195 616.91 L195.5 618.03 L196 617.64 L196.5 618.03 L197 617.77 L197.5 617.8 L198 617.76 L198.5 617.36 L199 618.45 L199.5 616.99 L200 618.42 L200.5 618.41 L201 617.76 L201.5 618.27 L202 618.09 L202.5 617.97 L203 617.42 L203.5 617.48 L204 617.54 L204.5 617.46 L205 618.65 L205.5 617.55 L206 617.64 L206.5 617.7 L207 618.43 L207.5 617.82 L208 617.97 L208.5 617.44 L209 617.49 L209.5 617.16 L210 617.4 L210.5 617.49 L211 618.55 L211.5 617.93 L212 617.23 L212.5 617.88 L213 617.27 L213.5 618.08 L214 617.86 L214.5 618.62 L215 617.55 L215.5 618.62 L216 617.55 L216.5 618.88 L217 618.26 L217.5 617.2 L218 618.58 L218.5 617.64 L219 617.8 L219.5 617.42 L220 618.67 L220.5 617.33 L221 618.51 L221.5 617.9 L222 618.42 L222.5 617.73 L223 617.35 L223.5 618.87 L224 618.41 L224.5 617.54 L225 619 L225.5 618.89 L226 617.59 L226.5 617.3 L227 618.38 L227.5 617.53 L228 618.61 L228.5 618.14" fill="none" stroke="#111" stroke-width="2.2" stroke-linejoin="round"/>
<line x1="351" y1="472.8" x2="351" y2="487.5" stroke="#111" stroke-width="1.4"/>
<line x1="362.2" y1="589.8" x2="362.2" y2="606" stroke="#111" stroke-width="1.3"/>
<line x1="389.9" y1="587" x2="389.9" y2="602" stroke="#111" stroke-width="1.3"/>
<line x1="334.3" y1="603" x2="334.3" y2="612" stroke="#111" stroke-width="1.2"/>
<path d="M321.7 472.8 L322 496.8 L323 535.3 L324 564.2 L324.7 579 L325.5 590 L326.7 598.5" fill="none" stroke="#111" stroke-width="2.1" stroke-linejoin="round"/>
<path d="M325.8 595.92 L326.85 595.92 L326.85 601.16 L328 601.16 L328 604.29 L328.67 604.29 L328.67 607.18 L329.93 607.18 L329.93 601.82 L330.61 601.82 L330.61 608.53 L331.63 608.53 L331.63 607.02 L332.24 607.02 L332.24 606.57 L333.32 606.57 L333.32 606.98 L333.97 606.98 L333.97 610.52 L335.02 610.52 L335.02 610.88 L336.08 610.88 L336.08 608.13 L337.17 608.13 L337.17 609.98 L338.03 609.98 L338.03 610.78 L339.19 610.78 L339.19 611.13 L340.45 611.13 L340.45 610.36 L341.07 610.36 L341.07 609.38 L341.98 609.38 L341.98 610.32 L343.21 610.32 L343.21 607.6 L344.28 607.6 L344.28 611.89 L345.14 611.89 L345.14 610.73 L345.9 610.73 L345.9 610.41 L346.5 610.41 L346.5 617.7 L345.9 617.7 L345.9 617.63 L345.14 617.63 L345.14 617.8 L344.28 617.8 L344.28 617.74 L343.21 617.74 L343.21 617.4 L341.98 617.4 L341.98 616.96 L341.07 616.96 L341.07 617.42 L340.45 617.42 L340.45 616.77 L339.19 616.77 L339.19 616.8 L338.03 616.8 L338.03 616.58 L337.17 616.58 L337.17 616.32 L336.08 616.32 L336.08 616.38 L335.02 616.38 L335.02 616.19 L333.97 616.19 L333.97 616.21 L333.32 616.21 L333.32 615.61 L332.24 615.61 L332.24 616.2 L331.63 616.2 L331.63 616.02 L330.61 616.02 L330.61 615.84 L329.93 615.84 L329.93 613.97 L328.67 613.97 L328.67 611.31 L328 611.31 L328 607.46 L326.85 607.46 L326.85 603.44 L325.8 603.44Z" fill="#111"/>
<path d="M346.4 618.3 L347 589 L348 560 L349 530 L349.9 505 L350.6 490 L351 487" fill="none" stroke="#111" stroke-width="2.1" stroke-linejoin="round"/>
<path d="M351 487 L351.5 495 L352 510 L352.6 530 L353.4 560 L354.4 575 L355.5 585 L356.5 592.7" fill="none" stroke="#111" stroke-width="2.1" stroke-linejoin="round"/>
<path d="M355.3 585.62 L356.11 585.62 L356.11 587.76 L357.32 587.76 L357.32 594.38 L358.47 594.38 L358.47 596.7 L359.16 596.7 L359.16 598.49 L360.33 598.49 L360.33 600.66 L361.33 600.66 L361.33 604.07 L361.9 604.07 L361.9 603.53 L363.12 603.53 L363.12 600.78 L363.85 600.78 L363.85 606.27 L364.61 606.27 L364.61 606.37 L365.45 606.37 L365.45 605.87 L366.42 605.87 L366.42 604.85 L367.05 604.85 L367.05 605.74 L368.08 605.74 L368.08 606.33 L369.22 606.33 L369.22 607.76 L370.13 607.76 L370.13 607.36 L371.24 607.36 L371.24 609.71 L372.23 609.71 L372.23 610.16 L373.36 610.16 L373.36 604.42 L374.03 604.42 L374.03 607.75 L374.83 607.75 L374.83 606.41 L375.71 606.41 L375.71 608.02 L376.33 608.02 L376.33 609.92 L377.57 609.92 L377.57 608 L378.56 608 L378.56 604.33 L379.17 604.33 L379.17 604.41 L380.13 604.41 L380.13 604.64 L380.97 604.64 L380.97 607.31 L381.65 607.31 L381.65 604.8 L382.3 604.8 L382.3 602.21 L383.18 602.21 L383.18 602.72 L383.77 602.72 L383.77 601.26 L384.71 601.26 L384.71 600.31 L385.62 600.31 L385.62 601.09 L386.25 601.09 L386.25 597.23 L387.43 597.23 L387.43 598.41 L387.99 598.41 L387.99 598.05 L388.66 598.05 L388.66 591.53 L389.79 591.53 L389.79 596.2 L390.49 596.2 L390.49 597.79 L391.33 597.79 L391.33 595.94 L392.27 595.94 L392.27 599.53 L393.13 599.53 L393.13 598.92 L394.02 598.92 L394.02 599.18 L394.93 599.18 L394.93 601.53 L395.81 601.53 L395.81 601.58 L396.4 601.58 L396.4 599.4 L397.52 599.4 L397.52 600.55 L398.27 600.55 L398.27 603.19 L398.84 603.19 L398.84 602.37 L399.68 602.37 L399.68 598.58 L400.8 598.58 L400.8 604.07 L401.79 604.07 L401.79 605.28 L402.66 605.28 L402.66 606.49 L403.55 606.49 L403.55 607.71 L404.25 607.71 L404.25 608.14 L405.23 608.14 L405.23 608.26 L406.02 608.26 L406.02 609.5 L406.61 609.5 L406.61 613.14 L407.24 613.14 L407.24 609.83 L407.85 609.83 L407.85 609.14 L408.88 609.14 L408.88 607.77 L410.06 607.77 L410.06 609.87 L411.14 609.87 L411.14 611.68 L411.84 611.68 L411.84 613.98 L412.49 613.98 L412.49 610.13 L413.71 610.13 L413.71 612.98 L414.52 612.98 L414.52 611.57 L415.18 611.57 L415.18 613.73 L416.13 613.73 L416.13 613.57 L417.12 613.57 L417.12 610.25 L418.05 610.25 L418.05 610.63 L418.91 610.63 L418.91 610.63 L419.67 610.63 L419.67 609.97 L420.57 609.97 L420.57 614.47 L421.44 614.47 L421.44 612.47 L422.47 612.47 L422.47 611.24 L423.33 611.24 L423.33 615.18 L424.12 615.18 L424.12 611.01 L425.37 611.01 L425.37 610.44 L425.99 610.44 L425.99 609.92 L427.08 609.92 L427.08 615.29 L427.92 615.29 L427.92 612.62 L429.04 612.62 L429.04 611.6 L430.09 611.6 L430.09 610.81 L431.04 610.81 L431.04 614.02 L432.02 614.02 L432.02 613.37 L432.72 613.37 L432.72 611.57 L433.27 611.57 L433.27 612.35 L434.35 612.35 L434.35 615.62 L435.08 615.62 L435.08 612.94 L435.7 612.94 L435.7 611.64 L436.82 611.64 L436.82 612.62 L437.79 612.62 L437.79 610.66 L438.35 610.66 L438.35 612.42 L439.26 612.42 L439.26 611.92 L439.92 611.92 L439.92 609.99 L441.08 609.99 L441.08 610.11 L441.82 610.11 L441.82 611.64 L443.04 611.64 L443.04 605.99 L444.02 605.99 L444.02 613.22 L444.61 613.22 L444.61 615.56 L445.45 615.56 L445.45 610.85 L446.68 610.85 L446.68 610.26 L447.73 610.26 L447.73 614.56 L448.38 614.56 L448.38 612.81 L449.18 612.81 L449.18 613.99 L449.92 613.99 L449.92 612.41 L450.53 612.41 L450.53 610.18 L451.5 610.18 L451.5 615.16 L452.54 615.16 L452.54 610.99 L453.23 610.99 L453.23 612.95 L454.17 612.95 L454.17 612.44 L455.33 612.44 L455.33 615.17 L456.51 615.17 L456.51 610.42 L457.18 610.42 L457.18 610.1 L457.77 610.1 L457.77 613.19 L458.97 613.19 L458.97 611.78 L459.74 611.78 L459.74 611.81 L460.4 611.81 L460.4 612.94 L461.52 612.94 L461.52 611.37 L462.25 611.37 L462.25 610.74 L463.3 610.74 L463.3 610.16 L464.34 610.16 L464.34 612.07 L465.09 612.07 L465.09 614.79 L465.96 614.79 L465.96 612.47 L466.71 612.47 L466.71 613.84 L467.83 613.84 L467.83 612.5 L468.58 612.5 L468.58 612.8 L469.31 612.8 L469.31 615.65 L470.47 615.65 L470.47 612.35 L471.21 612.35 L471.21 611.02 L472.07 611.02 L472.07 611.61 L472.98 611.61 L472.98 613.38 L473.52 613.38 L473.52 615.92 L474.26 615.92 L474.26 614.3 L475.34 614.3 L475.34 611.11 L476.59 611.11 L476.59 613.44 L477.37 613.44 L477.37 613.31 L478.26 613.31 L478.26 615.47 L478.84 615.47 L478.84 613.19 L479.73 613.19 L479.73 615.91 L480.53 615.91 L480.53 612.7 L481.43 612.7 L481.43 613.3 L482.18 613.3 L482.18 611.06 L482.95 611.06 L482.95 611.87 L484.15 611.87 L484.15 610.46 L485.25 610.46 L485.25 614.68 L486.05 614.68 L486.05 611.26 L486.64 611.26 L486.64 612.49 L487.21 612.49 L487.21 616.04 L487.82 616.04 L487.82 615.3 L488.46 615.3 L488.46 612.13 L489.42 612.13 L489.42 614.04 L490.33 614.04 L490.33 610.42 L490.97 610.42 L490.97 612.63 L492.14 612.63 L492.14 615.44 L493.16 615.44 L493.16 612.44 L494.21 612.44 L494.21 612.95 L495.4 612.95 L495.4 612.48 L496.16 612.48 L496.16 609.6 L497.35 609.6 L497.35 612.3 L498.6 612.3 L498.6 612.92 L499.79 612.92 L499.79 614.38 L500.36 614.38 L500.36 611.33 L501.52 611.33 L501.52 612.32 L502.76 612.32 L502.76 613.52 L503.38 613.52 L503.38 611.64 L504.2 611.64 L504.2 617.87 L503.38 617.87 L503.38 618.27 L502.76 618.27 L502.76 617.79 L501.52 617.79 L501.52 617.87 L500.36 617.87 L500.36 617.64 L499.79 617.64 L499.79 618.12 L498.6 618.12 L498.6 618.34 L497.35 618.34 L497.35 618.25 L496.16 618.25 L496.16 617.72 L495.4 617.72 L495.4 618.24 L494.21 618.24 L494.21 617.78 L493.16 617.78 L493.16 618.1 L492.14 618.1 L492.14 617.75 L490.97 617.75 L490.97 618.09 L490.33 618.09 L490.33 618.19 L489.42 618.19 L489.42 617.78 L488.46 617.78 L488.46 618.09 L487.82 618.09 L487.82 617.68 L487.21 617.68 L487.21 618.18 L486.64 618.18 L486.64 618.06 L486.05 618.06 L486.05 618.24 L485.25 618.24 L485.25 617.63 L484.15 617.63 L484.15 617.85 L482.95 617.85 L482.95 617.92 L482.18 617.92 L482.18 618.05 L481.43 618.05 L481.43 617.5 L480.53 617.5 L480.53 618.11 L479.73 618.11 L479.73 618.17 L478.84 618.17 L478.84 617.88 L478.26 617.88 L478.26 618.18 L477.37 618.18 L477.37 617.93 L476.59 617.93 L476.59 618.16 L475.34 618.16 L475.34 617.8 L474.26 617.8 L474.26 618.12 L473.52 618.12 L473.52 617.66 L472.98 617.66 L472.98 617.98 L472.07 617.98 L472.07 618.19 L471.21 618.19 L471.21 618.22 L470.47 618.22 L470.47 617.72 L469.31 617.72 L469.31 617.73 L468.58 617.73 L468.58 617.55 L467.83 617.55 L467.83 617.82 L466.71 617.82 L466.71 617.68 L465.96 617.68 L465.96 617.68 L465.09 617.68 L465.09 618.17 L464.34 618.17 L464.34 617.45 L463.3 617.45 L463.3 617.4 L462.25 617.4 L462.25 617.7 L461.52 617.7 L461.52 618.1 L460.4 618.1 L460.4 617.67 L459.74 617.67 L459.74 617.98 L458.97 617.98 L458.97 617.59 L457.77 617.59 L457.77 617.38 L457.18 617.38 L457.18 617.61 L456.51 617.61 L456.51 617.35 L455.33 617.35 L455.33 617.57 L454.17 617.57 L454.17 618.13 L453.23 618.13 L453.23 617.39 L452.54 617.39 L452.54 617.52 L451.5 617.52 L451.5 617.37 L450.53 617.37 L450.53 617.35 L449.92 617.35 L449.92 617.76 L449.18 617.76 L449.18 617.94 L448.38 617.94 L448.38 617.81 L447.73 617.81 L447.73 617.5 L446.68 617.5 L446.68 617.79 L445.45 617.79 L445.45 617.74 L444.61 617.74 L444.61 617.62 L444.02 617.62 L444.02 617.95 L443.04 617.95 L443.04 617.99 L441.82 617.99 L441.82 618.02 L441.08 618.02 L441.08 617.98 L439.92 617.98 L439.92 617.7 L439.26 617.7 L439.26 617.93 L438.35 617.93 L438.35 617.55 L437.79 617.55 L437.79 617.78 L436.82 617.78 L436.82 617.4 L435.7 617.4 L435.7 617.4 L435.08 617.4 L435.08 617.67 L434.35 617.67 L434.35 618.01 L433.27 618.01 L433.27 617.53 L432.72 617.53 L432.72 617.51 L432.02 617.51 L432.02 617.67 L431.04 617.67 L431.04 617.63 L430.09 617.63 L430.09 618 L429.04 618 L429.04 617.47 L427.92 617.47 L427.92 617.83 L427.08 617.83 L427.08 617.88 L425.99 617.88 L425.99 617.52 L425.37 617.52 L425.37 617.68 L424.12 617.68 L424.12 617.27 L423.33 617.27 L423.33 617.69 L422.47 617.69 L422.47 617.19 L421.44 617.19 L421.44 617.67 L420.57 617.67 L420.57 617.95 L419.67 617.95 L419.67 617.73 L418.91 617.73 L418.91 617.91 L418.05 617.91 L418.05 617.93 L417.12 617.93 L417.12 617.87 L416.13 617.87 L416.13 617.66 L415.18 617.66 L415.18 617.52 L414.52 617.52 L414.52 617.41 L413.71 617.41 L413.71 617.22 L412.49 617.22 L412.49 617.79 L411.84 617.79 L411.84 617.82 L411.14 617.82 L411.14 617.15 L410.06 617.15 L410.06 617.75 L408.88 617.75 L408.88 617.41 L407.85 617.41 L407.85 617.19 L407.24 617.19 L407.24 616.96 L406.61 616.96 L406.61 616.84 L406.02 616.84 L406.02 617.02 L405.23 617.02 L405.23 616.01 L404.25 616.01 L404.25 615.98 L403.55 615.98 L403.55 615.85 L402.66 615.85 L402.66 614.74 L401.79 614.74 L401.79 614.7 L400.8 614.7 L400.8 614.08 L399.68 614.08 L399.68 612.64 L398.84 612.64 L398.84 612.25 L398.27 612.25 L398.27 611.68 L397.52 611.68 L397.52 611.31 L396.4 611.31 L396.4 611.39 L395.81 611.39 L395.81 608.26 L394.93 608.26 L394.93 608.8 L394.02 608.8 L394.02 608.66 L393.13 608.66 L393.13 608.94 L392.27 608.94 L392.27 607.52 L391.33 607.52 L391.33 608.09 L390.49 608.09 L390.49 609.02 L389.79 609.02 L389.79 609.24 L388.66 609.24 L388.66 608.14 L387.99 608.14 L387.99 609.45 L387.43 609.45 L387.43 610.5 L386.25 610.5 L386.25 611.8 L385.62 611.8 L385.62 610.73 L384.71 610.73 L384.71 613.67 L383.77 613.67 L383.77 613.09 L383.18 613.09 L383.18 615.1 L382.3 615.1 L382.3 614.92 L381.65 614.92 L381.65 616.32 L380.97 616.32 L380.97 616.59 L380.13 616.59 L380.13 617.07 L379.17 617.07 L379.17 616.5 L378.56 616.5 L378.56 617.25 L377.57 617.25 L377.57 616.58 L376.33 616.58 L376.33 616.33 L375.71 616.33 L375.71 617.09 L374.83 617.09 L374.83 616.35 L374.03 616.35 L374.03 616.64 L373.36 616.64 L373.36 616.53 L372.23 616.53 L372.23 616.01 L371.24 616.01 L371.24 616.12 L370.13 616.12 L370.13 615.54 L369.22 615.54 L369.22 614.4 L368.08 614.4 L368.08 614.67 L367.05 614.67 L367.05 613.83 L366.42 613.83 L366.42 613.92 L365.45 613.92 L365.45 612.1 L364.61 612.1 L364.61 611.19 L363.85 611.19 L363.85 610.78 L363.12 610.78 L363.12 609.25 L361.9 609.25 L361.9 608.85 L361.33 608.85 L361.33 606.86 L360.33 606.86 L360.33 605.79 L359.16 605.79 L359.16 604.34 L358.47 604.34 L358.47 602.7 L357.32 602.7 L357.32 599.28 L356.11 599.28 L356.11 597.27 L355.3 597.27Z" fill="#111"/>
<line x1="82.3" y1="689.3" x2="82.4" y2="712.5" stroke="#111" stroke-width="1.4"/>
<line x1="43.8" y1="836" x2="44.2" y2="689.6" stroke="#111" stroke-width="1.6"/>
<line x1="44.2" y1="689.6" x2="48" y2="689.6" stroke="#111" stroke-width="1.6"/>
<path d="M48.1 689.6 L49.5 720.6 L50.5 748.3 L51.2 760" fill="none" stroke="#111" stroke-width="2.3" stroke-linejoin="round"/>
<path d="M50.3 743.3 L50.85 743.3 L50.85 750.51 L51.42 750.51 L51.42 756.32 L52.28 756.32 L52.28 760.1 L52.87 760.1 L52.87 765.88 L53.44 765.88 L53.44 772.19 L54.21 772.19 L54.21 780.1 L54.96 780.1 L54.96 785.87 L55.58 785.87 L55.58 792.33 L56.31 792.33 L56.31 795.92 L57.33 795.92 L57.33 797.52 L57.89 797.52 L57.89 799.12 L58.49 799.12 L58.49 801.25 L58.99 801.25 L58.99 804.29 L59.62 804.29 L59.62 803.13 L60.16 803.13 L60.16 806.7 L61.27 806.7 L61.27 808.06 L61.96 808.06 L61.96 810.93 L63.07 810.93 L63.07 812.16 L63.63 812.16 L63.63 816.76 L64.69 816.76 L64.69 817.17 L65.49 817.17 L65.49 820.69 L66.42 820.69 L66.42 819.82 L67.32 819.82 L67.32 822.25 L67.97 822.25 L67.97 822.14 L68.6 822.14 L68.6 824.49 L69.52 824.49 L69.52 823.7 L70.08 823.7 L70.08 826.03 L70.57 826.03 L70.57 822.43 L71.54 822.43 L71.54 823.7 L72.43 823.7 L72.43 825.75 L73.07 825.75 L73.07 829.48 L73.89 829.48 L73.89 830.23 L74.95 830.23 L74.95 829.83 L75.61 829.83 L75.61 831.61 L76.17 831.61 L76.17 831.68 L76.91 831.68 L76.91 833 L77.2 833 L77.2 835.42 L76.91 835.42 L76.91 835.15 L76.17 835.15 L76.17 835.27 L75.61 835.27 L75.61 834.99 L74.95 834.99 L74.95 835.08 L73.89 835.08 L73.89 834.77 L73.07 834.77 L73.07 834.68 L72.43 834.68 L72.43 834.95 L71.54 834.95 L71.54 834.99 L70.57 834.99 L70.57 834.37 L70.08 834.37 L70.08 834.57 L69.52 834.57 L69.52 834.61 L68.6 834.61 L68.6 834.67 L67.97 834.67 L67.97 834.39 L67.32 834.39 L67.32 834.1 L66.42 834.1 L66.42 834.04 L65.49 834.04 L65.49 834.33 L64.69 834.33 L64.69 832.69 L63.63 832.69 L63.63 831.18 L63.07 831.18 L63.07 829.83 L61.96 829.83 L61.96 827.38 L61.27 827.38 L61.27 824.11 L60.16 824.11 L60.16 822.03 L59.62 822.03 L59.62 820.58 L58.99 820.58 L58.99 818.86 L58.49 818.86 L58.49 816.4 L57.89 816.4 L57.89 814.02 L57.33 814.02 L57.33 810.79 L56.31 810.79 L56.31 806.36 L55.58 806.36 L55.58 803.64 L54.96 803.64 L54.96 800.22 L54.21 800.22 L54.21 796.82 L53.44 796.82 L53.44 790.88 L52.87 790.88 L52.87 785.41 L52.28 785.41 L52.28 777.99 L51.42 777.99 L51.42 771.56 L50.85 771.56 L50.85 767.61 L50.3 767.61Z" fill="#111"/>
<path d="M77.3 835.5 L77.8 800 L78.3 770 L78.8 745 L79.5 741 L80.5 730 L81.5 716 L82.3 712" fill="none" stroke="#111" stroke-width="2.4" stroke-linejoin="round"/>
<path d="M82.3 712 L83 730 L83.5 760 L84.5 780 L85.5 798 L87 806" fill="none" stroke="#111" stroke-width="2.4" stroke-linejoin="round"/>
<path d="M78.5 741 L82 738 L82.6 770 L78.5 770Z" fill="#111"/>
<path d="M84.8 792.71 L85.63 792.71 L85.63 799.08 L86.33 799.08 L86.33 802.97 L87.35 802.97 L87.35 807.33 L88.02 807.33 L88.02 809.34 L88.82 809.34 L88.82 811.54 L89.52 811.54 L89.52 814.57 L90.27 814.57 L90.27 812.14 L91.37 812.14 L91.37 813.68 L91.92 813.68 L91.92 817.83 L92.68 817.83 L92.68 817.93 L93.31 817.93 L93.31 818.27 L94.01 818.27 L94.01 816.98 L95.13 816.98 L95.13 816.69 L95.82 816.69 L95.82 818.89 L96.69 818.89 L96.69 819.08 L97.44 819.08 L97.44 820.35 L98.39 820.35 L98.39 821.11 L99.15 821.11 L99.15 823.66 L99.74 823.66 L99.74 823.34 L100.5 823.34 L100.5 822.11 L101.24 822.11 L101.24 825.24 L102.23 825.24 L102.23 823.8 L103.07 823.8 L103.07 825.93 L103.67 825.93 L103.67 823.25 L104.59 823.25 L104.59 825.55 L105.26 825.55 L105.26 826.89 L106.06 826.89 L106.06 824.16 L106.68 824.16 L106.68 824.11 L107.43 824.11 L107.43 821.12 L108.41 821.12 L108.41 825.96 L109.22 825.96 L109.22 825.19 L110.18 825.19 L110.18 825.2 L111.15 825.2 L111.15 826.21 L112 826.21 L112 824.7 L112.9 824.7 L112.9 825.07 L113.63 825.07 L113.63 824.4 L114 824.4 L114 834.31 L113.63 834.31 L113.63 834.17 L112.9 834.17 L112.9 833.84 L112 833.84 L112 833.7 L111.15 833.7 L111.15 833.9 L110.18 833.9 L110.18 833.41 L109.22 833.41 L109.22 833.32 L108.41 833.32 L108.41 832.82 L107.43 832.82 L107.43 833.07 L106.68 833.07 L106.68 833.13 L106.06 833.13 L106.06 832.6 L105.26 832.6 L105.26 832.32 L104.59 832.32 L104.59 832 L103.67 832 L103.67 831.51 L103.07 831.51 L103.07 831.21 L102.23 831.21 L102.23 830.85 L101.24 830.85 L101.24 830.05 L100.5 830.05 L100.5 829.98 L99.74 829.98 L99.74 829.71 L99.15 829.71 L99.15 829.43 L98.39 829.43 L98.39 828.96 L97.44 828.96 L97.44 828.49 L96.69 828.49 L96.69 827.36 L95.82 827.36 L95.82 827.26 L95.13 827.26 L95.13 826.26 L94.01 826.26 L94.01 825.31 L93.31 825.31 L93.31 823.3 L92.68 823.3 L92.68 822.91 L91.92 822.91 L91.92 822.05 L91.37 822.05 L91.37 820.73 L90.27 820.73 L90.27 818.5 L89.52 818.5 L89.52 817.03 L88.82 817.03 L88.82 815.16 L88.02 815.16 L88.02 813.26 L87.35 813.26 L87.35 810.21 L86.33 810.21 L86.33 806.27 L85.63 806.27 L85.63 802.86 L84.8 802.86Z" fill="#111"/>
<path d="M114 825.24 L114.83 825.24 L114.83 823.41 L115.49 823.41 L115.49 824.05 L115.99 824.05 L115.99 820.89 L116.89 820.89 L116.89 818.31 L117.5 818.31 L117.5 821.8 L118.15 821.8 L118.15 819.7 L118.88 819.7 L118.88 820.81 L119.77 820.81 L119.77 821.79 L120.88 821.79 L120.88 821.75 L121.66 821.75 L121.66 819.94 L122.78 819.94 L122.78 819.13 L123.89 819.13 L123.89 821.15 L124.53 821.15 L124.53 820.28 L125.05 820.28 L125.05 820.26 L125.63 820.26 L125.63 821.6 L126.65 821.6 L126.65 822.41 L127.52 822.41 L127.52 823.28 L128.58 823.28 L128.58 823.71 L129.69 823.71 L129.69 824.75 L130.59 824.75 L130.59 823.98 L131.41 823.98 L131.41 826.38 L131.93 826.38 L131.93 827.62 L132 827.62 L132 834.98 L131.93 834.98 L131.93 834.86 L131.41 834.86 L131.41 833.87 L130.59 833.87 L130.59 833.27 L129.69 833.27 L129.69 832.55 L128.58 832.55 L128.58 831.3 L127.52 831.3 L127.52 830.75 L126.65 830.75 L126.65 830.14 L125.63 830.14 L125.63 830.09 L125.05 830.09 L125.05 829.59 L124.53 829.59 L124.53 829.58 L123.89 829.58 L123.89 829.6 L122.78 829.6 L122.78 829.35 L121.66 829.35 L121.66 829.48 L120.88 829.48 L120.88 829.24 L119.77 829.24 L119.77 829.72 L118.88 829.72 L118.88 829.55 L118.15 829.55 L118.15 830.24 L117.5 830.24 L117.5 830.29 L116.89 830.29 L116.89 831.01 L115.99 831.01 L115.99 831.45 L115.49 831.45 L115.49 832.56 L114.83 832.56 L114.83 833.94 L114 833.94Z" fill="#111"/>
<path d="M132 828.35 L132.61 828.35 L132.61 827.18 L133.3 827.18 L133.3 828.54 L134.21 828.54 L134.21 829.18 L135.36 829.18 L135.36 829.15 L136.07 829.15 L136.07 830.65 L136.76 830.65 L136.76 830.66 L137.55 830.66 L137.55 831.52 L138.75 831.52 L138.75 828.91 L139.47 828.91 L139.47 832.53 L140.66 832.53 L140.66 829.12 L141.79 829.12 L141.79 830.27 L142.5 830.27 L142.5 829.76 L143.53 829.76 L143.53 830.8 L144.49 830.8 L144.49 831.66 L145.42 831.66 L145.42 831.15 L146.82 831.15 L146.82 829.34 L147.49 829.34 L147.49 830.22 L148.11 830.22 L148.11 829.34 L149.46 829.34 L149.46 831.55 L150.38 831.55 L150.38 828.78 L151.14 828.78 L151.14 830.6 L152 830.6 L152 829.72 L152.9 829.72 L152.9 830.64 L154.26 830.64 L154.26 826.04 L155.03 826.04 L155.03 829.85 L155.8 829.85 L155.8 830.32 L156.87 830.32 L156.87 831.22 L157.91 831.22 L157.91 826.99 L159.27 826.99 L159.27 830.22 L160.54 830.22 L160.54 831.55 L161.43 831.55 L161.43 829.95 L162.19 829.95 L162.19 831.05 L163.46 831.05 L163.46 832.24 L164.85 832.24 L164.85 828.84 L165.47 828.84 L165.47 830.06 L166.66 830.06 L166.66 828.92 L167.96 828.92 L167.96 833.06 L169.08 833.06 L169.08 827.47 L169.85 827.47 L169.85 830.62 L171.09 830.62 L171.09 832.23 L172.27 832.23 L172.27 830.81 L173.03 830.81 L173.03 832.35 L174.14 832.35 L174.14 825.8 L174.92 825.8 L174.92 831.23 L175.55 831.23 L175.55 830.45 L176.42 830.45 L176.42 831.76 L177.29 831.76 L177.29 831.97 L178.2 831.97 L178.2 832.36 L179.32 832.36 L179.32 832.03 L180.59 832.03 L180.59 831.24 L181.96 831.24 L181.96 829.41 L183.34 829.41 L183.34 832.65 L184.73 832.65 L184.73 829.84 L185.97 829.84 L185.97 830.69 L186.81 830.69 L186.81 830.79 L187.55 830.79 L187.55 829.68 L188.65 829.68 L188.65 832.86 L189.69 832.86 L189.69 829.36 L190.83 829.36 L190.83 832.32 L191.5 832.32 L191.5 829.31 L192.26 829.31 L192.26 831.04 L193.59 831.04 L193.59 828 L194.68 828 L194.68 832.65 L195.83 832.65 L195.83 829.47 L196.51 829.47 L196.51 832.69 L197.43 832.69 L197.43 831.56 L198.76 831.56 L198.76 831.37 L199.87 831.37 L199.87 831.37 L201.27 831.37 L201.27 827.06 L202.03 827.06 L202.03 833.27 L202.99 833.27 L202.99 832.61 L204.23 832.61 L204.23 831.02 L205.19 831.02 L205.19 829.62 L206.42 829.62 L206.42 830.76 L207.47 830.76 L207.47 830.53 L208.16 830.53 L208.16 829.89 L208.84 829.89 L208.84 829.78 L210.23 829.78 L210.23 831.68 L210.92 831.68 L210.92 828.8 L211.68 828.8 L211.68 830.37 L212.54 830.37 L212.54 832.68 L213.72 832.68 L213.72 827.32 L215 827.32 L215 829.36 L215.98 829.36 L215.98 829.43 L216.98 829.43 L216.98 828.09 L218.21 828.09 L218.21 833.45 L219.03 833.45 L219.03 833.13 L219.93 833.13 L219.93 833.01 L221.02 833.01 L221.02 830.77 L222.13 830.77 L222.13 833.08 L222.76 833.08 L222.76 829.27 L223.45 829.27 L223.45 831.71 L224.16 831.71 L224.16 828.29 L225.34 828.29 L225.34 831.39 L226.49 831.39 L226.49 831.31 L227.87 831.31 L227.87 832.1 L229.09 832.1 L229.09 833.53 L229.89 833.53 L229.89 830.93 L231.1 830.93 L231.1 830.9 L232.49 830.9 L232.49 832.84 L232.6 832.84 L232.6 835.48 L232.49 835.48 L232.49 835.4 L231.1 835.4 L231.1 835.54 L229.89 835.54 L229.89 835.62 L229.09 835.62 L229.09 835.76 L227.87 835.76 L227.87 835.33 L226.49 835.33 L226.49 835.28 L225.34 835.28 L225.34 835.58 L224.16 835.58 L224.16 835.6 L223.45 835.6 L223.45 835.74 L222.76 835.74 L222.76 835.34 L222.13 835.34 L222.13 835.61 L221.02 835.61 L221.02 835.73 L219.93 835.73 L219.93 835.32 L219.03 835.32 L219.03 835.6 L218.21 835.6 L218.21 835.26 L216.98 835.26 L216.98 835.48 L215.98 835.48 L215.98 835.66 L215 835.66 L215 835.34 L213.72 835.34 L213.72 835.37 L212.54 835.37 L212.54 835.22 L211.68 835.22 L211.68 835.54 L210.92 835.54 L210.92 835.67 L210.23 835.67 L210.23 835.6 L208.84 835.6 L208.84 835.67 L208.16 835.67 L208.16 835.55 L207.47 835.55 L207.47 835.64 L206.42 835.64 L206.42 835.36 L205.19 835.36 L205.19 835.42 L204.23 835.42 L204.23 835.23 L202.99 835.23 L202.99 835.46 L202.03 835.46 L202.03 835.23 L201.27 835.23 L201.27 835.72 L199.87 835.72 L199.87 835.49 L198.76 835.49 L198.76 835.29 L197.43 835.29 L197.43 835.46 L196.51 835.46 L196.51 835.49 L195.83 835.49 L195.83 835.59 L194.68 835.59 L194.68 835.31 L193.59 835.31 L193.59 835.54 L192.26 835.54 L192.26 835.44 L191.5 835.44 L191.5 835.16 L190.83 835.16 L190.83 835.28 L189.69 835.28 L189.69 835.57 L188.65 835.57 L188.65 835.27 L187.55 835.27 L187.55 835.32 L186.81 835.32 L186.81 835.27 L185.97 835.27 L185.97 835.68 L184.73 835.68 L184.73 835.33 L183.34 835.33 L183.34 835.62 L181.96 835.62 L181.96 835.37 L180.59 835.37 L180.59 835.35 L179.32 835.35 L179.32 835.64 L178.2 835.64 L178.2 835.33 L177.29 835.33 L177.29 835.11 L176.42 835.11 L176.42 835.65 L175.55 835.65 L175.55 835.28 L174.92 835.28 L174.92 835.12 L174.14 835.12 L174.14 835.29 L173.03 835.29 L173.03 835.62 L172.27 835.62 L172.27 835.37 L171.09 835.37 L171.09 835.09 L169.85 835.09 L169.85 835.4 L169.08 835.4 L169.08 835.1 L167.96 835.1 L167.96 835.37 L166.66 835.37 L166.66 835.55 L165.47 835.55 L165.47 835.48 L164.85 835.48 L164.85 835.49 L163.46 835.49 L163.46 835.31 L162.19 835.31 L162.19 835.47 L161.43 835.47 L161.43 835.57 L160.54 835.57 L160.54 835.62 L159.27 835.62 L159.27 835.17 L157.91 835.17 L157.91 835.38 L156.87 835.38 L156.87 835.19 L155.8 835.19 L155.8 835.39 L155.03 835.39 L155.03 835.5 L154.26 835.5 L154.26 835.33 L152.9 835.33 L152.9 835.06 L152 835.06 L152 835.6 L151.14 835.6 L151.14 835.41 L150.38 835.41 L150.38 835.5 L149.46 835.5 L149.46 835.24 L148.11 835.24 L148.11 835.26 L147.49 835.26 L147.49 835.25 L146.82 835.25 L146.82 835.18 L145.42 835.18 L145.42 835.05 L144.49 835.05 L144.49 835.49 L143.53 835.49 L143.53 835.45 L142.5 835.45 L142.5 835.25 L141.79 835.25 L141.79 835.09 L140.66 835.09 L140.66 835.36 L139.47 835.36 L139.47 835.46 L138.75 835.46 L138.75 835.09 L137.55 835.09 L137.55 835.29 L136.76 835.29 L136.76 835.25 L136.07 835.25 L136.07 835.42 L135.36 835.42 L135.36 835.18 L134.21 835.18 L134.21 835.13 L133.3 835.13 L133.3 835.52 L132.61 835.52 L132.61 835.17 L132 835.17Z" fill="#111"/>
<path d="M322.6 689.3 L323.5 714.8 L324.5 743.7 L325.5 763 L326.5 782.2 L327.5 796" fill="none" stroke="#111" stroke-width="2.1" stroke-linejoin="round"/>
<path d="M326.8 794.42 L327.33 794.42 L327.33 796.66 L327.95 796.66 L327.95 797.93 L328.62 797.93 L328.62 800.26 L329.68 800.26 L329.68 801.71 L330.47 801.71 L330.47 806.3 L331.41 806.3 L331.41 806.99 L331.96 806.99 L331.96 807.51 L332.76 807.51 L332.76 811.02 L333.78 811.02 L333.78 814.02 L334.6 814.02 L334.6 821.92 L335.68 821.92 L335.68 825.38 L336.73 825.38 L336.73 826.15 L337.45 826.15 L337.45 826.2 L337.93 826.2 L337.93 828.22 L338.89 828.22 L338.89 828.77 L339.45 828.77 L339.45 825.41 L339.94 825.41 L339.94 828.9 L340.88 828.9 L340.88 828.39 L341.9 828.39 L341.9 826.15 L342.92 826.15 L342.92 825.03 L344.01 825.03 L344.01 829.03 L344.62 829.03 L344.62 829.92 L345.15 829.92 L345.15 826.03 L345.71 826.03 L345.71 829.12 L346.81 829.12 L346.81 830.92 L347.36 830.92 L347.36 829.82 L347.95 829.82 L347.95 831.82 L348.44 831.82 L348.44 830.82 L348.95 830.82 L348.95 831.65 L349 831.65 L349 835.33 L348.95 835.33 L348.95 834.99 L348.44 834.99 L348.44 835.24 L347.95 835.24 L347.95 835.53 L347.36 835.53 L347.36 835.16 L346.81 835.16 L346.81 835.34 L345.71 835.34 L345.71 834.99 L345.15 834.99 L345.15 835.09 L344.62 835.09 L344.62 835.19 L344.01 835.19 L344.01 835.4 L342.92 835.4 L342.92 834.88 L341.9 834.88 L341.9 835.3 L340.88 835.3 L340.88 835.18 L339.94 835.18 L339.94 835.16 L339.45 835.16 L339.45 834.43 L338.89 834.43 L338.89 834.44 L337.93 834.44 L337.93 833.83 L337.45 833.83 L337.45 833.61 L336.73 833.61 L336.73 833.59 L335.68 833.59 L335.68 833.05 L334.6 833.05 L334.6 832.68 L333.78 832.68 L333.78 831.14 L332.76 831.14 L332.76 830.19 L331.96 830.19 L331.96 828.82 L331.41 828.82 L331.41 827.05 L330.47 827.05 L330.47 824.61 L329.68 824.61 L329.68 819.45 L328.62 819.45 L328.62 814.12 L327.95 814.12 L327.95 808.32 L327.33 808.32 L327.33 802.29 L326.8 802.29Z" fill="#111"/>
<line x1="333.4" y1="806.5" x2="333.4" y2="815" stroke="#111" stroke-width="1.3"/>
<line x1="343" y1="824.5" x2="343" y2="831" stroke="#111" stroke-width="1.3"/>
<path d="M348.8 835 L349.5 812 L350.2 790 L350.7 764.4" fill="none" stroke="#111" stroke-width="2.3" stroke-linejoin="round"/>
<path d="M350.7 764.4 L351.3 775 L352 790 L353 786 L354.5 782.7 L355.2 795 L356.5 800 L357.5 805 L359 815 L360.5 822 L362 828 L364 831" fill="none" stroke="#111" stroke-width="2.3" stroke-linejoin="round"/>
<path d="M350 790 L351.5 778 L352.2 792 L353.2 788 L354.4 785 L355.2 797 L356.5 802 L357.5 807 L359 816 L360 822 L358 820 L356.5 812 L354 814 L352 815 L350 812Z" fill="#111"/>
<path d="M362 827.03 L362.95 827.03 L362.95 828.38 L363.95 828.38 L363.95 823.63 L365.07 823.63 L365.07 827.59 L365.81 827.59 L365.81 826.61 L366.82 826.61 L366.82 827.75 L368 827.75 L368 826.79 L369.2 826.79 L369.2 823.15 L369.87 823.15 L369.87 830.64 L370.88 830.64 L370.88 826.83 L371.87 826.83 L371.87 828.85 L372.77 828.85 L372.77 826.55 L374 826.55 L374 827.56 L374.93 827.56 L374.93 830.21 L375.79 830.21 L375.79 830.66 L377.01 830.66 L377.01 829.66 L378 829.66 L378 828.71 L378.76 828.71 L378.76 830.15 L379.52 830.15 L379.52 826.95 L380.42 826.95 L380.42 828.91 L381 828.91 L381 827.76 L381.97 827.76 L381.97 830.83 L383.04 830.83 L383.04 827.27 L383.89 827.27 L383.89 830.85 L385.04 830.85 L385.04 829.5 L386.25 829.5 L386.25 829.11 L387.19 829.11 L387.19 829.33 L388.22 829.33 L388.22 828.99 L388.84 828.99 L388.84 828.1 L389.42 828.1 L389.42 828.34 L390.67 828.34 L390.67 830.87 L391.41 830.87 L391.41 829.02 L392.11 829.02 L392.11 829.7 L393.29 829.7 L393.29 826.53 L394.37 826.53 L394.37 829.5 L395 829.5 L395 829.97 L395.77 829.97 L395.77 828.57 L396.49 828.57 L396.49 824.04 L397.23 824.04 L397.23 827.29 L397.77 827.29 L397.77 829 L398.69 829 L398.69 829.09 L399.45 829.09 L399.45 828.32 L400.27 828.32 L400.27 827.28 L400.94 827.28 L400.94 830.18 L401.56 830.18 L401.56 827.58 L402.13 827.58 L402.13 828.04 L403.3 828.04 L403.3 827.86 L404.37 827.86 L404.37 828.94 L405.32 828.94 L405.32 828.77 L405.95 828.77 L405.95 826.37 L406.59 826.37 L406.59 828.82 L407.22 828.82 L407.22 830.33 L407.99 830.33 L407.99 830.23 L408.57 830.23 L408.57 829.86 L409.31 829.86 L409.31 826.98 L409.99 826.98 L409.99 829.11 L410.67 829.11 L410.67 829.06 L411.68 829.06 L411.68 831.77 L412.55 831.77 L412.55 828.2 L413.43 828.2 L413.43 831.74 L414.23 831.74 L414.23 829.64 L415.16 829.64 L415.16 830.57 L416.26 830.57 L416.26 831.97 L417.03 831.97 L417.03 831.19 L417.62 831.19 L417.62 829.69 L418.5 829.69 L418.5 831.91 L419.32 831.91 L419.32 830.34 L420.42 830.34 L420.42 831.99 L421.04 831.99 L421.04 831.48 L422.21 831.48 L422.21 825.4 L422.76 825.4 L422.76 829.54 L423.69 829.54 L423.69 829.44 L424.55 829.44 L424.55 830.61 L425.31 830.61 L425.31 830.21 L426.49 830.21 L426.49 829.59 L427.54 829.59 L427.54 829.63 L428.2 829.63 L428.2 831.43 L429.09 831.43 L429.09 831.73 L430.07 831.73 L430.07 828.1 L430.64 828.1 L430.64 830.05 L431.24 830.05 L431.24 826.97 L432.21 826.97 L432.21 829.29 L433.28 829.29 L433.28 829.37 L434.15 829.37 L434.15 831.13 L435 831.13 L435 830.86 L435.9 830.86 L435.9 829.74 L436.63 829.74 L436.63 832.36 L437.8 832.36 L437.8 830.97 L439.03 830.97 L439.03 833 L439.92 833 L439.92 830.93 L440.47 830.93 L440.47 830.16 L441.3 830.16 L441.3 830.49 L442.42 830.49 L442.42 826.49 L443.19 826.49 L443.19 830.6 L443.81 830.6 L443.81 830.6 L444.48 830.6 L444.48 831.83 L445.53 831.83 L445.53 832.55 L446.52 832.55 L446.52 830.69 L447.27 830.69 L447.27 832.81 L448.26 832.81 L448.26 832.8 L449.34 832.8 L449.34 831.48 L450.58 831.48 L450.58 826.7 L451.72 826.7 L451.72 833.11 L452.57 833.11 L452.57 830.79 L453.69 830.79 L453.69 831.21 L454.9 831.21 L454.9 831.82 L456.07 831.82 L456.07 833.23 L457.15 833.23 L457.15 833.56 L458.11 833.56 L458.11 833.62 L459.02 833.62 L459.02 832.82 L460.17 832.82 L460.17 832.95 L461.16 832.95 L461.16 833.32 L462.22 833.32 L462.22 833 L462.92 833 L462.92 830.63 L463.53 830.63 L463.53 832.84 L464.26 832.84 L464.26 831.94 L465.22 831.94 L465.22 829.71 L466.18 829.71 L466.18 833.35 L466.86 833.35 L466.86 833.51 L467.54 833.51 L467.54 830.72 L468.76 830.72 L468.76 833.11 L469.35 833.11 L469.35 832.99 L470.56 832.99 L470.56 831.9 L471.65 831.9 L471.65 832.14 L472.61 832.14 L472.61 833.61 L473.86 833.61 L473.86 832.98 L474.89 832.98 L474.89 831.89 L475.44 831.89 L475.44 833.65 L476.65 833.65 L476.65 831.04 L477.49 831.04 L477.49 833.5 L478.69 833.5 L478.69 831.72 L479.82 831.72 L479.82 833.61 L480.46 833.61 L480.46 831.08 L481.03 831.08 L481.03 828.25 L481.58 828.25 L481.58 833.03 L482.68 833.03 L482.68 833.47 L483.79 833.47 L483.79 834.12 L484.5 834.12 L484.5 833.32 L485.12 833.32 L485.12 831.1 L485.92 831.1 L485.92 833.43 L487.04 833.43 L487.04 831.2 L488.11 831.2 L488.11 832.2 L489.27 832.2 L489.27 832.47 L490.51 832.47 L490.51 833.59 L491.6 833.59 L491.6 834.15 L492.74 834.15 L492.74 831.65 L493.29 831.65 L493.29 832.48 L493.83 832.48 L493.83 832.38 L494.99 832.38 L494.99 832.04 L495.98 832.04 L495.98 832.12 L496.76 832.12 L496.76 832.17 L497.39 832.17 L497.39 833.13 L498.17 833.13 L498.17 831.98 L498.95 831.98 L498.95 833.91 L499.85 833.91 L499.85 833.83 L500.71 833.83 L500.71 832.35 L501.4 832.35 L501.4 831.42 L502 831.42 L502 833.9 L502.68 833.9 L502.68 832.87 L503.32 832.87 L503.32 829.36 L503.93 829.36 L503.93 831.63 L504 831.63 L504 835.64 L503.93 835.64 L503.93 835.73 L503.32 835.73 L503.32 835.88 L502.68 835.88 L502.68 835.95 L502 835.95 L502 835.49 L501.4 835.49 L501.4 835.8 L500.71 835.8 L500.71 835.67 L499.85 835.67 L499.85 835.86 L498.95 835.86 L498.95 835.62 L498.17 835.62 L498.17 836.05 L497.39 836.05 L497.39 835.93 L496.76 835.93 L496.76 836.01 L495.98 836.01 L495.98 835.59 L494.99 835.59 L494.99 835.7 L493.83 835.7 L493.83 835.61 L493.29 835.61 L493.29 835.94 L492.74 835.94 L492.74 835.98 L491.6 835.98 L491.6 835.85 L490.51 835.85 L490.51 835.79 L489.27 835.79 L489.27 835.98 L488.11 835.98 L488.11 835.99 L487.04 835.99 L487.04 835.85 L485.92 835.85 L485.92 835.78 L485.12 835.78 L485.12 835.63 L484.5 835.63 L484.5 835.47 L483.79 835.47 L483.79 835.91 L482.68 835.91 L482.68 835.48 L481.58 835.48 L481.58 835.56 L481.03 835.56 L481.03 835.58 L480.46 835.58 L480.46 835.44 L479.82 835.44 L479.82 835.94 L478.69 835.94 L478.69 835.91 L477.49 835.91 L477.49 835.51 L476.65 835.51 L476.65 835.35 L475.44 835.35 L475.44 835.36 L474.89 835.36 L474.89 835.67 L473.86 835.67 L473.86 835.91 L472.61 835.91 L472.61 835.74 L471.65 835.74 L471.65 835.36 L470.56 835.36 L470.56 835.61 L469.35 835.61 L469.35 835.56 L468.76 835.56 L468.76 835.58 L467.54 835.58 L467.54 835.4 L466.86 835.4 L466.86 835.83 L466.18 835.83 L466.18 835.37 L465.22 835.37 L465.22 835.88 L464.26 835.88 L464.26 835.48 L463.53 835.48 L463.53 835.76 L462.92 835.76 L462.92 835.72 L462.22 835.72 L462.22 835.28 L461.16 835.28 L461.16 835.85 L460.17 835.85 L460.17 835.85 L459.02 835.85 L459.02 835.71 L458.11 835.71 L458.11 835.5 L457.15 835.5 L457.15 835.57 L456.07 835.57 L456.07 835.65 L454.9 835.65 L454.9 835.23 L453.69 835.23 L453.69 835.48 L452.57 835.48 L452.57 835.25 L451.72 835.25 L451.72 835.75 L450.58 835.75 L450.58 835.73 L449.34 835.73 L449.34 835.3 L448.26 835.3 L448.26 835.76 L447.27 835.76 L447.27 835.7 L446.52 835.7 L446.52 835.53 L445.53 835.53 L445.53 835.57 L444.48 835.57 L444.48 835.55 L443.81 835.55 L443.81 835.21 L443.19 835.21 L443.19 835.73 L442.42 835.73 L442.42 835.54 L441.3 835.54 L441.3 835.37 L440.47 835.37 L440.47 835.51 L439.92 835.51 L439.92 835.66 L439.03 835.66 L439.03 835.62 L437.8 835.62 L437.8 835.72 L436.63 835.72 L436.63 835.61 L435.9 835.61 L435.9 835.41 L435 835.41 L435 835.7 L434.15 835.7 L434.15 835.21 L433.28 835.21 L433.28 835.43 L432.21 835.43 L432.21 835.2 L431.24 835.2 L431.24 835.62 L430.64 835.62 L430.64 835.32 L430.07 835.32 L430.07 835.42 L429.09 835.42 L429.09 835.55 L428.2 835.55 L428.2 835.67 L427.54 835.67 L427.54 835.46 L426.49 835.46 L426.49 835.06 L425.31 835.06 L425.31 835.27 L424.55 835.27 L424.55 835.51 L423.69 835.51 L423.69 835.08 L422.76 835.08 L422.76 835.54 L422.21 835.54 L422.21 835.16 L421.04 835.16 L421.04 835.16 L420.42 835.16 L420.42 835.41 L419.32 835.41 L419.32 835.44 L418.5 835.44 L418.5 835.55 L417.62 835.55 L417.62 835.5 L417.03 835.5 L417.03 835.54 L416.26 835.54 L416.26 835.45 L415.16 835.45 L415.16 835.39 L414.23 835.39 L414.23 835.32 L413.43 835.32 L413.43 835.44 L412.55 835.44 L412.55 835.38 L411.68 835.38 L411.68 835.19 L410.67 835.19 L410.67 835.55 L409.99 835.55 L409.99 835.09 L409.31 835.09 L409.31 835.35 L408.57 835.35 L408.57 835.06 L407.99 835.06 L407.99 835.06 L407.22 835.06 L407.22 835.51 L406.59 835.51 L406.59 835.3 L405.95 835.3 L405.95 835.13 L405.32 835.13 L405.32 835.12 L404.37 835.12 L404.37 835.42 L403.3 835.42 L403.3 835.36 L402.13 835.36 L402.13 835.13 L401.56 835.13 L401.56 835.52 L400.94 835.52 L400.94 835.36 L400.27 835.36 L400.27 834.95 L399.45 834.95 L399.45 835.12 L398.69 835.12 L398.69 835.45 L397.77 835.45 L397.77 834.94 L397.23 834.94 L397.23 835.44 L396.49 835.44 L396.49 835.1 L395.77 835.1 L395.77 835.39 L395 835.39 L395 835.38 L394.37 835.38 L394.37 835.07 L393.29 835.07 L393.29 835.43 L392.11 835.43 L392.11 835.02 L391.41 835.02 L391.41 834.98 L390.67 834.98 L390.67 835.42 L389.42 835.42 L389.42 835.37 L388.84 835.37 L388.84 834.99 L388.22 834.99 L388.22 835.02 L387.19 835.02 L387.19 835.03 L386.25 835.03 L386.25 835.43 L385.04 835.43 L385.04 835.06 L383.89 835.06 L383.89 835.42 L383.04 835.42 L383.04 835.16 L381.97 835.16 L381.97 835.12 L381 835.12 L381 835.06 L380.42 835.06 L380.42 835.03 L379.52 835.03 L379.52 834.93 L378.76 834.93 L378.76 834.85 L378 834.85 L378 835.27 L377.01 835.27 L377.01 834.92 L375.79 834.92 L375.79 835.21 L374.93 835.21 L374.93 835.03 L374 835.03 L374 834.88 L372.77 834.88 L372.77 834.99 L371.87 834.99 L371.87 835.23 L370.88 835.23 L370.88 835.23 L369.87 835.23 L369.87 835.13 L369.2 835.13 L369.2 835.32 L368 835.32 L368 834.87 L366.82 834.87 L366.82 834.95 L365.81 834.95 L365.81 835.22 L365.07 835.22 L365.07 834.93 L363.95 834.93 L363.95 834.85 L362.95 834.85 L362.95 835.03 L362 835.03Z" fill="#111"/>
<line x1="366.8" y1="821.6" x2="366.8" y2="832" stroke="#111" stroke-width="1.3"/>
<line x1="370.5" y1="823.5" x2="370.5" y2="832" stroke="#111" stroke-width="1.3"/>
<line x1="374" y1="824" x2="374" y2="832" stroke="#111" stroke-width="1.3"/>
<line x1="381" y1="825" x2="381" y2="832" stroke="#111" stroke-width="1.3"/>
<line x1="387.5" y1="822.5" x2="387.5" y2="832" stroke="#111" stroke-width="1.3"/>
<line x1="394.7" y1="822.5" x2="394.7" y2="832" stroke="#111" stroke-width="1.3"/>
<line x1="399" y1="826" x2="399" y2="832" stroke="#111" stroke-width="1.3"/>
<line x1="405" y1="824.5" x2="405" y2="832" stroke="#111" stroke-width="1.3"/>
<line x1="412" y1="826.5" x2="412" y2="832" stroke="#111" stroke-width="1.3"/>
<line x1="425" y1="827" x2="425" y2="832" stroke="#111" stroke-width="1.3"/>
<line x1="451" y1="828.5" x2="451" y2="832" stroke="#111" stroke-width="1.3"/>
<line x1="470" y1="829.5" x2="470" y2="832" stroke="#111" stroke-width="1.3"/>
<line x1="484" y1="830" x2="484" y2="832" stroke="#111" stroke-width="1.3"/>
<line x1="497" y1="830" x2="497" y2="832" stroke="#111" stroke-width="1.3"/>
<text x="4.2" y="17.5" class="big" textLength="29.8" lengthAdjust="spacingAndGlyphs">#9</text>
<text x="0.8" y="457.5" class="big" textLength="41.5" lengthAdjust="spacingAndGlyphs">#10</text>
<text x="93.25" y="227" class="cap" textLength="80.7" lengthAdjust="spacingAndGlyphs">0 hours</text>
<text x="358.5" y="227" class="cap" textLength="94.7" lengthAdjust="spacingAndGlyphs">24 hours</text>
<text x="75" y="445.5" class="cap" textLength="116.9" lengthAdjust="spacingAndGlyphs">IR: 4 hours</text>
<text x="342.4" y="444.5" class="cap" textLength="132" lengthAdjust="spacingAndGlyphs">IR: 24 hours</text>
<text x="90.8" y="664.2" class="cap" textLength="81" lengthAdjust="spacingAndGlyphs">0 hours</text>
<text x="360" y="663.2" class="cap" textLength="95" lengthAdjust="spacingAndGlyphs">24 hours</text>
<text x="78.5" y="881.2" class="cap" textLength="117.4" lengthAdjust="spacingAndGlyphs">IR: 4 hours</text>
<text x="344.4" y="881.8" class="cap" textLength="132.8" lengthAdjust="spacingAndGlyphs">IR: 24 hours</text>
<text x="202.6" y="58.3" class="let" >A</text>
<text x="479.3" y="57.6" class="let" >B</text>
<text x="201.6" y="279.8" class="let" >C</text>
<text x="478.5" y="279" class="let" >D</text>
<text x="201.3" y="500.7" class="let" >E</text>
<text x="478.8" y="500.7" class="let" >F</text>
<text x="201.6" y="718" class="let" >G</text>
<text x="478.6" y="718.2" class="let" >H</text>
<text x="82.6" y="47.8" class="num" >50</text>
<text x="115.7" y="103.8" class="num" >24</text>
<text x="93.8" y="162.7" class="num" >26</text>
<text x="358.3" y="48" class="num" >72</text>
<text x="364.6" y="172" class="num" >23</text>
<text x="384.1" y="168.7" class="num" >4</text>
<text x="84.7" y="269.2" class="num" >52</text>
<text x="89.8" y="382.7" class="num" >29</text>
<text x="111.6" y="362" class="num" >18</text>
<text x="356.2" y="269.2" class="num" >88</text>
<text x="367.8" y="397" class="num" >8</text>
<text x="385.6" y="394.2" class="num" >4</text>
<text x="87.3" y="491.6" class="num" >74</text>
<text x="95.4" y="611.4" class="num" >15</text>
<text x="114.6" y="602.4" class="num" >11</text>
<text x="356.4" y="486.8" class="num" >60</text>
<text x="364.9" y="598.8" class="num" >28</text>
<text x="382.8" y="583" class="num" >11</text>
<text x="87.6" y="704.3" class="num" >58</text>
<text x="95" y="817.7" class="num" >31</text>
<text x="115.6" y="817.7" class="num" >10</text>
<line x1="439" y1="643.8" x2="468.4" y2="643.8" stroke="#333" stroke-width="0.9"/>
</svg>
</body></html>
